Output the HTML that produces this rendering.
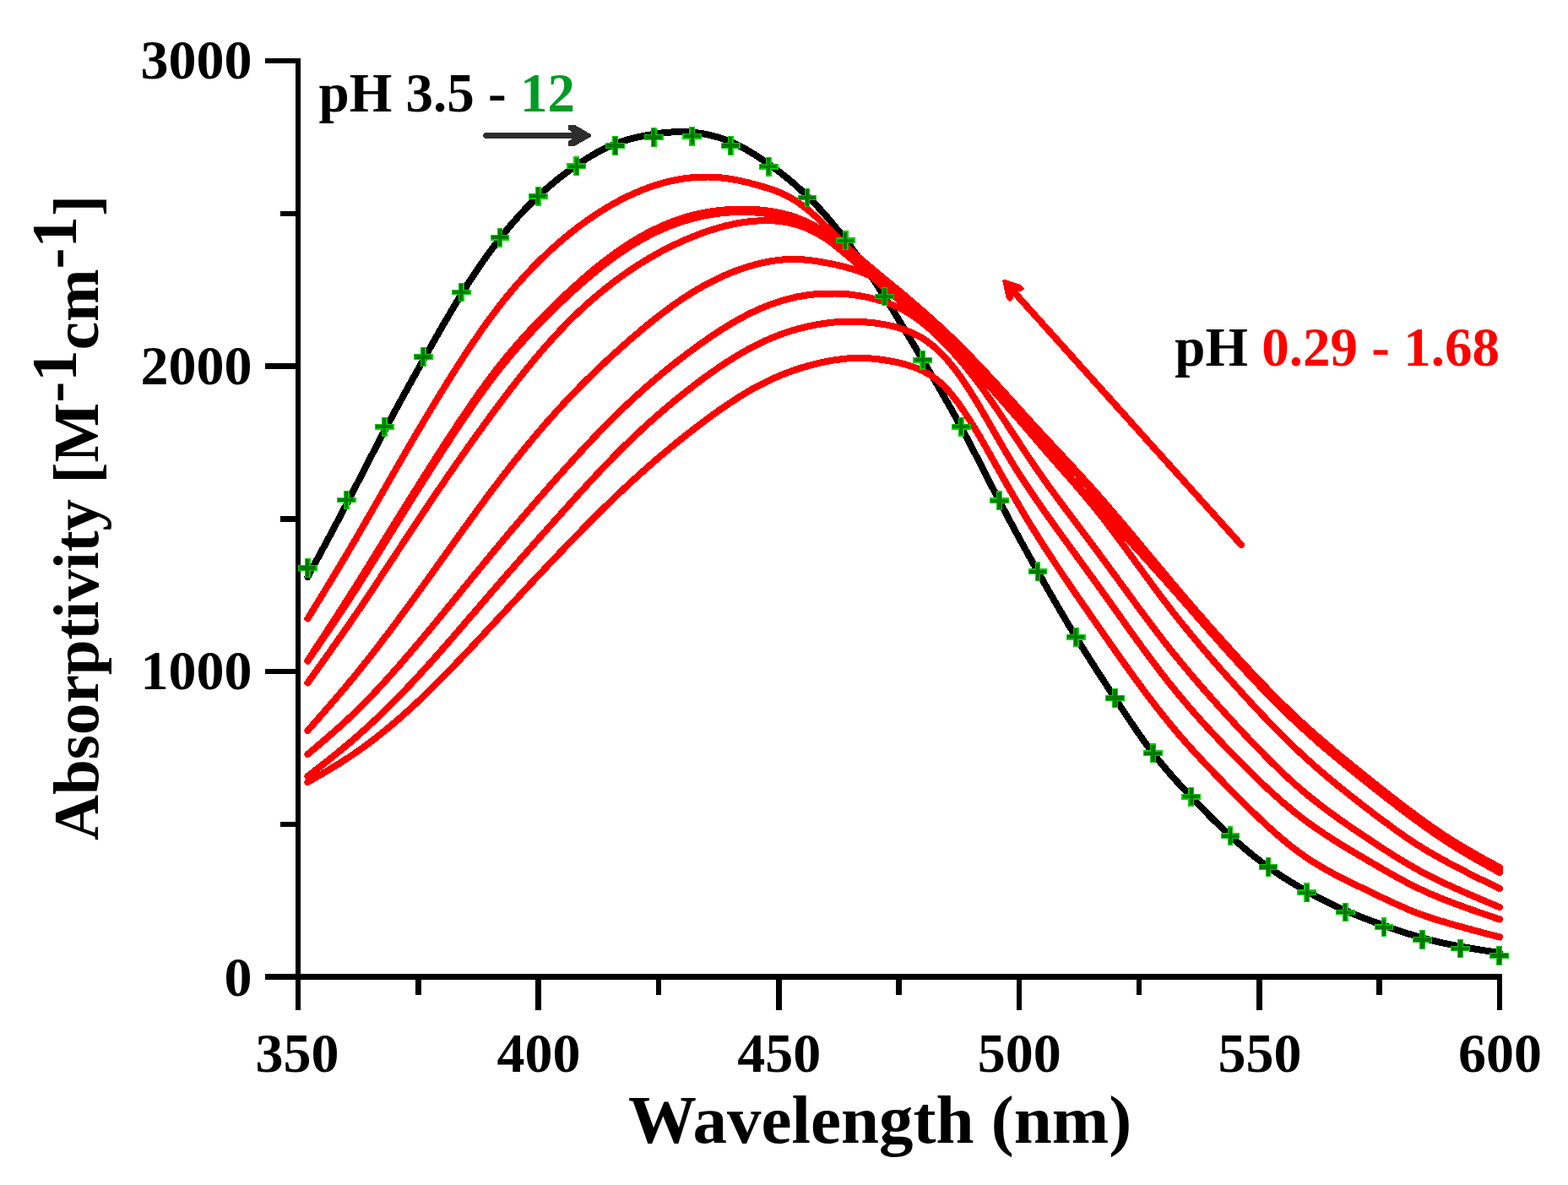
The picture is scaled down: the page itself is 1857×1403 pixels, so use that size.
<!DOCTYPE html>
<html><head><meta charset="utf-8"><title>Absorptivity vs Wavelength</title>
<style>html,body{margin:0;padding:0;background:#fff;overflow:hidden}svg{display:block}</style>
</head><body>
<svg width="1857" height="1403" viewBox="0 0 1857 1403">
<rect width="100%" height="100%" fill="#ffffff"/>
<g shape-rendering="crispEdges">
<g stroke="#000" stroke-width="6.6" stroke-linecap="butt" fill="none">
<path d="M353.0 69 L353.0 1159.8"/>
<path d="M314 1156.5 L1779 1156.5"/>
<path d="M314 795.0 L353.0 795.0"/>
<path d="M314 433.5 L353.0 433.5"/>
<path d="M314 72.0 L353.0 72.0"/>
<path d="M332 975.8 L353.0 975.8"/>
<path d="M332 614.2 L353.0 614.2"/>
<path d="M332 252.8 L353.0 252.8"/>
<path d="M353.0 1156.5 L353.0 1195.7"/>
<path d="M637.6 1156.5 L637.6 1195.7"/>
<path d="M922.2 1156.5 L922.2 1195.7"/>
<path d="M1206.8 1156.5 L1206.8 1195.7"/>
<path d="M1491.4 1156.5 L1491.4 1195.7"/>
<path d="M1776.0 1156.5 L1776.0 1195.7"/>
<path d="M495.3 1156.5 L495.3 1177.5"/>
<path d="M779.9 1156.5 L779.9 1177.5"/>
<path d="M1064.5 1156.5 L1064.5 1177.5"/>
<path d="M1349.1 1156.5 L1349.1 1177.5"/>
<path d="M1633.7 1156.5 L1633.7 1177.5"/>
</g>
<path d="M364.4 683.0 L367.4 677.5 L370.4 671.9 L373.4 666.4 L376.4 660.8 L379.4 655.2 L382.4 649.7 L385.4 644.1 L388.4 638.5 L391.4 632.9 L394.4 627.2 L397.4 621.6 L400.4 615.9 L403.4 610.2 L406.4 604.5 L409.4 598.8 L412.4 593.0 L415.4 587.2 L418.4 581.4 L421.4 575.6 L424.4 569.8 L427.4 563.9 L430.4 558.1 L433.4 552.2 L436.4 546.4 L439.4 540.6 L442.4 534.8 L445.4 529.0 L448.4 523.2 L451.4 517.5 L454.4 511.8 L457.4 506.1 L460.4 500.5 L463.4 494.9 L466.4 489.3 L469.4 483.8 L472.4 478.3 L475.4 472.8 L478.4 467.4 L481.4 461.9 L484.4 456.5 L487.4 451.1 L490.4 445.7 L493.4 440.4 L496.4 435.0 L499.4 429.6 L502.4 424.3 L505.4 419.0 L508.4 413.6 L511.4 408.3 L514.4 403.0 L517.4 397.7 L520.4 392.5 L523.4 387.2 L526.4 382.0 L529.4 376.9 L532.4 371.8 L535.4 366.7 L538.4 361.7 L541.4 356.7 L544.4 351.8 L547.4 346.9 L550.4 342.1 L553.4 337.4 L556.4 332.7 L559.4 328.1 L562.4 323.6 L565.4 319.1 L568.4 314.7 L571.4 310.4 L574.4 306.1 L577.4 301.9 L580.4 297.7 L583.4 293.7 L586.4 289.7 L589.4 285.8 L592.4 281.9 L595.4 278.1 L598.4 274.4 L601.4 270.8 L604.4 267.2 L607.4 263.7 L610.4 260.3 L613.4 256.9 L616.4 253.6 L619.4 250.4 L622.4 247.2 L625.4 244.1 L628.4 241.1 L631.4 238.1 L634.4 235.2 L637.4 232.3 L640.4 229.5 L643.4 226.8 L646.4 224.1 L649.4 221.5 L652.4 218.9 L655.4 216.4 L658.4 213.9 L661.4 211.5 L664.4 209.2 L667.4 206.9 L670.4 204.6 L673.4 202.4 L676.4 200.2 L679.4 198.1 L682.4 196.0 L685.4 194.0 L688.4 192.0 L691.4 190.1 L694.4 188.1 L697.4 186.3 L700.4 184.5 L703.4 182.7 L706.4 181.0 L709.4 179.4 L712.4 177.8 L715.4 176.3 L718.4 174.9 L721.4 173.5 L724.4 172.2 L727.4 170.9 L730.4 169.7 L733.4 168.6 L736.4 167.6 L739.4 166.6 L742.4 165.7 L745.4 164.8 L748.4 164.0 L751.4 163.2 L754.4 162.5 L757.4 161.9 L760.4 161.2 L763.4 160.7 L766.4 160.1 L769.4 159.6 L772.4 159.1 L775.4 158.7 L778.4 158.2 L781.4 157.8 L784.4 157.4 L787.4 157.1 L790.4 156.8 L793.4 156.6 L796.4 156.4 L799.4 156.2 L802.4 156.1 L805.4 156.1 L808.4 156.1 L811.4 156.1 L814.4 156.3 L817.4 156.5 L820.4 156.7 L823.4 157.0 L826.4 157.4 L829.4 157.8 L832.4 158.3 L835.4 158.9 L838.4 159.5 L841.4 160.1 L844.4 160.9 L847.4 161.7 L850.4 162.5 L853.4 163.5 L856.4 164.5 L859.4 165.6 L862.4 166.8 L865.4 168.0 L868.4 169.3 L871.4 170.7 L874.4 172.1 L877.4 173.7 L880.4 175.3 L883.4 176.9 L886.4 178.6 L889.4 180.4 L892.4 182.2 L895.4 184.1 L898.4 186.1 L901.4 188.0 L904.4 190.1 L907.4 192.1 L910.4 194.2 L913.4 196.4 L916.4 198.6 L919.4 200.8 L922.4 203.1 L925.4 205.4 L928.4 207.7 L931.4 210.1 L934.4 212.6 L937.4 215.1 L940.4 217.7 L943.4 220.3 L946.4 223.0 L949.4 225.8 L952.4 228.6 L955.4 231.4 L958.4 234.4 L961.4 237.4 L964.4 240.5 L967.4 243.6 L970.4 246.9 L973.4 250.1 L976.4 253.5 L979.4 256.9 L982.4 260.4 L985.4 264.0 L988.4 267.6 L991.4 271.3 L994.4 275.0 L997.4 278.8 L1000.4 282.7 L1003.4 286.6 L1006.4 290.6 L1009.4 294.7 L1012.4 298.8 L1015.4 303.0 L1018.4 307.3 L1021.4 311.6 L1024.4 315.9 L1027.4 320.3 L1030.4 324.8 L1033.4 329.3 L1036.4 333.9 L1039.4 338.5 L1042.4 343.2 L1045.4 347.9 L1048.4 352.6 L1051.4 357.4 L1054.4 362.2 L1057.4 367.1 L1060.4 372.0 L1063.4 376.9 L1066.4 381.9 L1069.4 386.9 L1072.4 391.9 L1075.4 396.9 L1078.4 402.0 L1081.4 407.0 L1084.4 412.1 L1087.4 417.2 L1090.4 422.3 L1093.4 427.3 L1096.4 432.4 L1099.4 437.5 L1102.4 442.6 L1105.4 447.7 L1108.4 452.8 L1111.4 457.9 L1114.4 463.1 L1117.4 468.3 L1120.4 473.5 L1123.4 478.8 L1126.4 484.1 L1129.4 489.5 L1132.4 494.9 L1135.4 500.4 L1138.4 505.9 L1141.4 511.5 L1144.4 517.2 L1147.4 522.9 L1150.4 528.6 L1153.4 534.4 L1156.4 540.2 L1159.4 546.1 L1162.4 551.9 L1165.4 557.8 L1168.4 563.7 L1171.4 569.5 L1174.4 575.4 L1177.4 581.2 L1180.4 587.0 L1183.4 592.8 L1186.4 598.5 L1189.4 604.2 L1192.4 609.9 L1195.4 615.5 L1198.4 621.1 L1201.4 626.7 L1204.4 632.2 L1207.4 637.7 L1210.4 643.2 L1213.4 648.6 L1216.4 654.0 L1219.4 659.4 L1222.4 664.8 L1225.4 670.2 L1228.4 675.5 L1231.4 680.8 L1234.4 686.1 L1237.4 691.4 L1240.4 696.7 L1243.4 701.9 L1246.4 707.1 L1249.4 712.3 L1252.4 717.5 L1255.4 722.6 L1258.4 727.7 L1261.4 732.8 L1264.4 737.9 L1267.4 742.9 L1270.4 747.8 L1273.4 752.8 L1276.4 757.7 L1279.4 762.5 L1282.4 767.4 L1285.4 772.2 L1288.4 776.9 L1291.4 781.7 L1294.4 786.4 L1297.4 791.1 L1300.4 795.7 L1303.4 800.4 L1306.4 805.0 L1309.4 809.6 L1312.4 814.2 L1315.4 818.8 L1318.4 823.4 L1321.4 828.0 L1324.4 832.5 L1327.4 837.1 L1330.4 841.6 L1333.4 846.1 L1336.4 850.6 L1339.4 855.1 L1342.4 859.5 L1345.4 863.9 L1348.4 868.2 L1351.4 872.5 L1354.4 876.7 L1357.4 880.8 L1360.4 884.9 L1363.4 888.9 L1366.4 892.8 L1369.4 896.6 L1372.4 900.4 L1375.4 904.0 L1378.4 907.6 L1381.4 911.2 L1384.4 914.7 L1387.4 918.1 L1390.4 921.5 L1393.4 924.8 L1396.4 928.1 L1399.4 931.3 L1402.4 934.6 L1405.4 937.8 L1408.4 940.9 L1411.4 944.1 L1414.4 947.3 L1417.4 950.4 L1420.4 953.5 L1423.4 956.6 L1426.4 959.7 L1429.4 962.7 L1432.4 965.8 L1435.4 968.8 L1438.4 971.8 L1441.4 974.7 L1444.4 977.7 L1447.4 980.6 L1450.4 983.4 L1453.4 986.2 L1456.4 989.0 L1459.4 991.8 L1462.4 994.5 L1465.4 997.2 L1468.4 999.8 L1471.4 1002.4 L1474.4 1004.9 L1477.4 1007.5 L1480.4 1009.9 L1483.4 1012.4 L1486.4 1014.7 L1489.4 1017.1 L1492.4 1019.4 L1495.4 1021.7 L1498.4 1023.9 L1501.4 1026.1 L1504.4 1028.2 L1507.4 1030.3 L1510.4 1032.4 L1513.4 1034.4 L1516.4 1036.4 L1519.4 1038.3 L1522.4 1040.3 L1525.4 1042.1 L1528.4 1044.0 L1531.4 1045.8 L1534.4 1047.6 L1537.4 1049.4 L1540.4 1051.1 L1543.4 1052.8 L1546.4 1054.5 L1549.4 1056.2 L1552.4 1057.9 L1555.4 1059.5 L1558.4 1061.1 L1561.4 1062.7 L1564.4 1064.2 L1567.4 1065.8 L1570.4 1067.3 L1573.4 1068.8 L1576.4 1070.2 L1579.4 1071.7 L1582.4 1073.1 L1585.4 1074.5 L1588.4 1075.9 L1591.4 1077.2 L1594.4 1078.5 L1597.4 1079.8 L1600.4 1081.1 L1603.4 1082.3 L1606.4 1083.5 L1609.4 1084.7 L1612.4 1085.9 L1615.4 1087.1 L1618.4 1088.2 L1621.4 1089.3 L1624.4 1090.4 L1627.4 1091.6 L1630.4 1092.6 L1633.4 1093.7 L1636.4 1094.8 L1639.4 1095.9 L1642.4 1096.9 L1645.4 1098.0 L1648.4 1099.0 L1651.4 1100.1 L1654.4 1101.1 L1657.4 1102.1 L1660.4 1103.1 L1663.4 1104.1 L1666.4 1105.1 L1669.4 1106.0 L1672.4 1106.9 L1675.4 1107.8 L1678.4 1108.7 L1681.4 1109.6 L1684.4 1110.4 L1687.4 1111.3 L1690.4 1112.1 L1693.4 1112.8 L1696.4 1113.6 L1699.4 1114.3 L1702.4 1115.0 L1705.4 1115.7 L1708.4 1116.4 L1711.4 1117.0 L1714.4 1117.6 L1717.4 1118.3 L1720.4 1118.9 L1723.4 1119.4 L1726.4 1120.0 L1729.4 1120.6 L1732.4 1121.1 L1735.4 1121.6 L1738.4 1122.2 L1741.4 1122.7 L1744.4 1123.2 L1747.4 1123.7 L1750.4 1124.2 L1753.4 1124.6 L1756.4 1125.1 L1759.4 1125.6 L1762.4 1126.0 L1765.4 1126.5 L1768.4 1127.0 L1771.4 1127.4 L1774.4 1127.9 L1776.0 1128.1" fill="none" stroke="#000" stroke-width="8" stroke-linejoin="round" stroke-linecap="round"/>
<g fill="none" stroke="#ff0000" stroke-width="8" stroke-linejoin="round" stroke-linecap="round">
<path d="M364.4 926.1 L367.4 924.3 L370.4 922.6 L373.4 920.9 L376.4 919.1 L379.4 917.4 L382.4 915.6 L385.4 913.8 L388.4 912.1 L391.4 910.3 L394.4 908.4 L397.4 906.6 L400.4 904.8 L403.4 902.9 L406.4 901.0 L409.4 899.0 L412.4 897.1 L415.4 895.1 L418.4 893.1 L421.4 891.0 L424.4 888.9 L427.4 886.8 L430.4 884.7 L433.4 882.5 L436.4 880.3 L439.4 878.0 L442.4 875.7 L445.4 873.4 L448.4 871.0 L451.4 868.7 L454.4 866.2 L457.4 863.8 L460.4 861.3 L463.4 858.8 L466.4 856.3 L469.4 853.7 L472.4 851.1 L475.4 848.5 L478.4 845.8 L481.4 843.1 L484.4 840.4 L487.4 837.7 L490.4 834.9 L493.4 832.1 L496.4 829.3 L499.4 826.5 L502.4 823.6 L505.4 820.7 L508.4 817.8 L511.4 814.8 L514.4 811.8 L517.4 808.8 L520.4 805.8 L523.4 802.8 L526.4 799.7 L529.4 796.7 L532.4 793.6 L535.4 790.5 L538.4 787.4 L541.4 784.2 L544.4 781.1 L547.4 777.9 L550.4 774.8 L553.4 771.6 L556.4 768.4 L559.4 765.2 L562.4 762.0 L565.4 758.8 L568.4 755.6 L571.4 752.4 L574.4 749.1 L577.4 745.9 L580.4 742.7 L583.4 739.5 L586.4 736.3 L589.4 733.0 L592.4 729.8 L595.4 726.6 L598.4 723.4 L601.4 720.1 L604.4 716.9 L607.4 713.7 L610.4 710.5 L613.4 707.3 L616.4 704.0 L619.4 700.8 L622.4 697.6 L625.4 694.4 L628.4 691.2 L631.4 688.0 L634.4 684.8 L637.4 681.6 L640.4 678.4 L643.4 675.3 L646.4 672.1 L649.4 668.9 L652.4 665.7 L655.4 662.6 L658.4 659.4 L661.4 656.3 L664.4 653.1 L667.4 650.0 L670.4 646.9 L673.4 643.8 L676.4 640.7 L679.4 637.6 L682.4 634.5 L685.4 631.4 L688.4 628.3 L691.4 625.2 L694.4 622.2 L697.4 619.2 L700.4 616.1 L703.4 613.1 L706.4 610.1 L709.4 607.1 L712.4 604.2 L715.4 601.2 L718.4 598.3 L721.4 595.4 L724.4 592.4 L727.4 589.6 L730.4 586.7 L733.4 583.8 L736.4 581.0 L739.4 578.2 L742.4 575.4 L745.4 572.6 L748.4 569.8 L751.4 567.1 L754.4 564.4 L757.4 561.7 L760.4 559.0 L763.4 556.3 L766.4 553.7 L769.4 551.1 L772.4 548.5 L775.4 545.9 L778.4 543.3 L781.4 540.7 L784.4 538.2 L787.4 535.7 L790.4 533.2 L793.4 530.7 L796.4 528.2 L799.4 525.8 L802.4 523.3 L805.4 520.9 L808.4 518.5 L811.4 516.1 L814.4 513.8 L817.4 511.4 L820.4 509.1 L823.4 506.8 L826.4 504.5 L829.4 502.2 L832.4 499.9 L835.4 497.6 L838.4 495.4 L841.4 493.2 L844.4 491.0 L847.4 488.9 L850.4 486.7 L853.4 484.6 L856.4 482.5 L859.4 480.5 L862.4 478.4 L865.4 476.4 L868.4 474.5 L871.4 472.5 L874.4 470.6 L877.4 468.8 L880.4 466.9 L883.4 465.1 L886.4 463.4 L889.4 461.6 L892.4 459.9 L895.4 458.3 L898.4 456.7 L901.4 455.1 L904.4 453.6 L907.4 452.1 L910.4 450.7 L913.4 449.3 L916.4 447.9 L919.4 446.6 L922.4 445.3 L925.4 444.0 L928.4 442.8 L931.4 441.7 L934.4 440.5 L937.4 439.4 L940.4 438.4 L943.4 437.4 L946.4 436.4 L949.4 435.4 L952.4 434.5 L955.4 433.7 L958.4 432.8 L961.4 432.0 L964.4 431.2 L967.4 430.5 L970.4 429.8 L973.4 429.1 L976.4 428.5 L979.4 427.9 L982.4 427.3 L985.4 426.8 L988.4 426.3 L991.4 425.9 L994.4 425.5 L997.4 425.1 L1000.4 424.8 L1003.4 424.5 L1006.4 424.3 L1009.4 424.1 L1012.4 424.0 L1015.4 423.9 L1018.4 423.9 L1021.4 424.0 L1024.4 424.1 L1027.4 424.2 L1030.4 424.4 L1033.4 424.6 L1036.4 424.9 L1039.4 425.3 L1042.4 425.6 L1045.4 426.0 L1048.4 426.5 L1051.4 426.9 L1054.4 427.5 L1057.4 428.0 L1060.4 428.6 L1063.4 429.3 L1066.4 430.0 L1069.4 430.8 L1072.4 431.6 L1075.4 432.4 L1078.4 433.4 L1081.4 434.4 L1084.4 435.5 L1087.4 436.7 L1090.4 438.0 L1093.4 439.4 L1096.4 441.0 L1099.4 442.7 L1102.4 444.5 L1105.4 446.6 L1108.4 448.8 L1111.4 451.2 L1114.4 453.8 L1117.4 456.7 L1120.4 459.7 L1123.4 463.0 L1126.4 466.4 L1129.4 470.1 L1132.4 474.0 L1135.4 478.0 L1138.4 482.2 L1141.4 486.6 L1144.4 491.1 L1147.4 495.7 L1150.4 500.5 L1153.4 505.3 L1156.4 510.3 L1159.4 515.4 L1162.4 520.5 L1165.4 525.7 L1168.4 531.0 L1171.4 536.3 L1174.4 541.6 L1177.4 546.9 L1180.4 552.3 L1183.4 557.6 L1186.4 562.9 L1189.4 568.3 L1192.4 573.5 L1195.4 578.8 L1198.4 584.0 L1201.4 589.2 L1204.4 594.4 L1207.4 599.5 L1210.4 604.6 L1213.4 609.6 L1216.4 614.6 L1219.4 619.5 L1222.4 624.4 L1225.4 629.2 L1228.4 634.0 L1231.4 638.8 L1234.4 643.5 L1237.4 648.2 L1240.4 652.8 L1243.4 657.4 L1246.4 662.0 L1249.4 666.6 L1252.4 671.1 L1255.4 675.6 L1258.4 680.1 L1261.4 684.6 L1264.4 689.0 L1267.4 693.4 L1270.4 697.8 L1273.4 702.2 L1276.4 706.6 L1279.4 710.9 L1282.4 715.3 L1285.4 719.6 L1288.4 723.9 L1291.4 728.2 L1294.4 732.6 L1297.4 736.9 L1300.4 741.2 L1303.4 745.5 L1306.4 749.8 L1309.4 754.1 L1312.4 758.4 L1315.4 762.7 L1318.4 767.0 L1321.4 771.3 L1324.4 775.5 L1327.4 779.8 L1330.4 784.0 L1333.4 788.2 L1336.4 792.4 L1339.4 796.6 L1342.4 800.7 L1345.4 804.9 L1348.4 809.0 L1351.4 813.0 L1354.4 817.1 L1357.4 821.1 L1360.4 825.1 L1363.4 829.0 L1366.4 833.0 L1369.4 836.8 L1372.4 840.7 L1375.4 844.5 L1378.4 848.2 L1381.4 851.9 L1384.4 855.6 L1387.4 859.2 L1390.4 862.8 L1393.4 866.4 L1396.4 869.9 L1399.4 873.4 L1402.4 876.8 L1405.4 880.2 L1408.4 883.6 L1411.4 886.9 L1414.4 890.2 L1417.4 893.5 L1420.4 896.7 L1423.4 900.0 L1426.4 903.2 L1429.4 906.3 L1432.4 909.5 L1435.4 912.6 L1438.4 915.8 L1441.4 918.9 L1444.4 922.0 L1447.4 925.0 L1450.4 928.1 L1453.4 931.1 L1456.4 934.2 L1459.4 937.2 L1462.4 940.3 L1465.4 943.3 L1468.4 946.3 L1471.4 949.3 L1474.4 952.3 L1477.4 955.2 L1480.4 958.2 L1483.4 961.1 L1486.4 964.0 L1489.4 966.9 L1492.4 969.8 L1495.4 972.6 L1498.4 975.4 L1501.4 978.2 L1504.4 980.9 L1507.4 983.6 L1510.4 986.3 L1513.4 988.9 L1516.4 991.5 L1519.4 994.1 L1522.4 996.6 L1525.4 999.0 L1528.4 1001.4 L1531.4 1003.8 L1534.4 1006.1 L1537.4 1008.3 L1540.4 1010.5 L1543.4 1012.6 L1546.4 1014.7 L1549.4 1016.7 L1552.4 1018.7 L1555.4 1020.6 L1558.4 1022.5 L1561.4 1024.3 L1564.4 1026.1 L1567.4 1027.9 L1570.4 1029.6 L1573.4 1031.2 L1576.4 1032.9 L1579.4 1034.5 L1582.4 1036.1 L1585.4 1037.7 L1588.4 1039.2 L1591.4 1040.7 L1594.4 1042.2 L1597.4 1043.7 L1600.4 1045.2 L1603.4 1046.6 L1606.4 1048.1 L1609.4 1049.5 L1612.4 1050.9 L1615.4 1052.4 L1618.4 1053.8 L1621.4 1055.3 L1624.4 1056.7 L1627.4 1058.1 L1630.4 1059.6 L1633.4 1061.0 L1636.4 1062.5 L1639.4 1063.9 L1642.4 1065.3 L1645.4 1066.7 L1648.4 1068.1 L1651.4 1069.5 L1654.4 1070.9 L1657.4 1072.2 L1660.4 1073.5 L1663.4 1074.8 L1666.4 1076.1 L1669.4 1077.4 L1672.4 1078.6 L1675.4 1079.8 L1678.4 1081.0 L1681.4 1082.1 L1684.4 1083.2 L1687.4 1084.3 L1690.4 1085.3 L1693.4 1086.3 L1696.4 1087.3 L1699.4 1088.3 L1702.4 1089.2 L1705.4 1090.1 L1708.4 1091.0 L1711.4 1091.9 L1714.4 1092.8 L1717.4 1093.7 L1720.4 1094.5 L1723.4 1095.4 L1726.4 1096.2 L1729.4 1097.0 L1732.4 1097.9 L1735.4 1098.7 L1738.4 1099.5 L1741.4 1100.3 L1744.4 1101.2 L1747.4 1102.0 L1750.4 1102.8 L1753.4 1103.6 L1756.4 1104.4 L1759.4 1105.1 L1762.4 1105.9 L1765.4 1106.7 L1768.4 1107.5 L1771.4 1108.3 L1774.4 1109.1 L1776.0 1109.5"/>
<path d="M364.4 919.1 L367.4 916.7 L370.4 914.4 L373.4 912.1 L376.4 909.8 L379.4 907.4 L382.4 905.1 L385.4 902.7 L388.4 900.4 L391.4 898.0 L394.4 895.6 L397.4 893.2 L400.4 890.8 L403.4 888.3 L406.4 885.8 L409.4 883.3 L412.4 880.8 L415.4 878.3 L418.4 875.7 L421.4 873.1 L424.4 870.5 L427.4 867.8 L430.4 865.1 L433.4 862.4 L436.4 859.7 L439.4 856.9 L442.4 854.1 L445.4 851.3 L448.4 848.4 L451.4 845.5 L454.4 842.6 L457.4 839.7 L460.4 836.7 L463.4 833.7 L466.4 830.7 L469.4 827.7 L472.4 824.6 L475.4 821.5 L478.4 818.4 L481.4 815.3 L484.4 812.1 L487.4 809.0 L490.4 805.8 L493.4 802.5 L496.4 799.3 L499.4 796.0 L502.4 792.7 L505.4 789.4 L508.4 786.1 L511.4 782.8 L514.4 779.4 L517.4 776.0 L520.4 772.6 L523.4 769.2 L526.4 765.8 L529.4 762.4 L532.4 758.9 L535.4 755.5 L538.4 752.0 L541.4 748.6 L544.4 745.1 L547.4 741.6 L550.4 738.1 L553.4 734.6 L556.4 731.1 L559.4 727.7 L562.4 724.2 L565.4 720.7 L568.4 717.2 L571.4 713.7 L574.4 710.2 L577.4 706.7 L580.4 703.3 L583.4 699.8 L586.4 696.3 L589.4 692.9 L592.4 689.4 L595.4 686.0 L598.4 682.6 L601.4 679.1 L604.4 675.7 L607.4 672.3 L610.4 668.9 L613.4 665.5 L616.4 662.1 L619.4 658.7 L622.4 655.3 L625.4 651.9 L628.4 648.5 L631.4 645.1 L634.4 641.8 L637.4 638.4 L640.4 635.0 L643.4 631.7 L646.4 628.3 L649.4 624.9 L652.4 621.6 L655.4 618.2 L658.4 614.9 L661.4 611.5 L664.4 608.2 L667.4 604.8 L670.4 601.5 L673.4 598.2 L676.4 594.9 L679.4 591.5 L682.4 588.2 L685.4 584.9 L688.4 581.6 L691.4 578.4 L694.4 575.1 L697.4 571.8 L700.4 568.6 L703.4 565.4 L706.4 562.2 L709.4 559.0 L712.4 555.8 L715.4 552.7 L718.4 549.5 L721.4 546.4 L724.4 543.3 L727.4 540.2 L730.4 537.2 L733.4 534.2 L736.4 531.2 L739.4 528.2 L742.4 525.3 L745.4 522.4 L748.4 519.5 L751.4 516.6 L754.4 513.8 L757.4 511.0 L760.4 508.2 L763.4 505.4 L766.4 502.7 L769.4 500.0 L772.4 497.3 L775.4 494.6 L778.4 492.0 L781.4 489.4 L784.4 486.8 L787.4 484.3 L790.4 481.7 L793.4 479.2 L796.4 476.7 L799.4 474.2 L802.4 471.8 L805.4 469.4 L808.4 467.0 L811.4 464.6 L814.4 462.2 L817.4 459.9 L820.4 457.6 L823.4 455.3 L826.4 453.0 L829.4 450.8 L832.4 448.5 L835.4 446.3 L838.4 444.2 L841.4 442.0 L844.4 439.9 L847.4 437.8 L850.4 435.7 L853.4 433.7 L856.4 431.7 L859.4 429.7 L862.4 427.7 L865.4 425.8 L868.4 423.9 L871.4 422.1 L874.4 420.3 L877.4 418.5 L880.4 416.8 L883.4 415.1 L886.4 413.4 L889.4 411.8 L892.4 410.2 L895.4 408.7 L898.4 407.2 L901.4 405.7 L904.4 404.3 L907.4 403.0 L910.4 401.6 L913.4 400.4 L916.4 399.1 L919.4 397.9 L922.4 396.8 L925.4 395.7 L928.4 394.6 L931.4 393.6 L934.4 392.6 L937.4 391.6 L940.4 390.7 L943.4 389.9 L946.4 389.0 L949.4 388.3 L952.4 387.5 L955.4 386.8 L958.4 386.1 L961.4 385.5 L964.4 384.9 L967.4 384.4 L970.4 383.9 L973.4 383.4 L976.4 382.9 L979.4 382.5 L982.4 382.2 L985.4 381.8 L988.4 381.5 L991.4 381.3 L994.4 381.1 L997.4 380.9 L1000.4 380.8 L1003.4 380.7 L1006.4 380.7 L1009.4 380.7 L1012.4 380.7 L1015.4 380.8 L1018.4 380.9 L1021.4 381.1 L1024.4 381.3 L1027.4 381.6 L1030.4 381.8 L1033.4 382.2 L1036.4 382.5 L1039.4 382.9 L1042.4 383.4 L1045.4 383.9 L1048.4 384.4 L1051.4 385.0 L1054.4 385.6 L1057.4 386.3 L1060.4 387.0 L1063.4 387.9 L1066.4 388.8 L1069.4 389.8 L1072.4 390.8 L1075.4 392.0 L1078.4 393.2 L1081.4 394.6 L1084.4 396.0 L1087.4 397.6 L1090.4 399.3 L1093.4 401.1 L1096.4 403.1 L1099.4 405.2 L1102.4 407.5 L1105.4 409.9 L1108.4 412.5 L1111.4 415.2 L1114.4 418.2 L1117.4 421.3 L1120.4 424.5 L1123.4 428.0 L1126.4 431.5 L1129.4 435.3 L1132.4 439.2 L1135.4 443.2 L1138.4 447.4 L1141.4 451.8 L1144.4 456.3 L1147.4 460.9 L1150.4 465.6 L1153.4 470.4 L1156.4 475.4 L1159.4 480.4 L1162.4 485.4 L1165.4 490.6 L1168.4 495.7 L1171.4 500.9 L1174.4 506.2 L1177.4 511.4 L1180.4 516.6 L1183.4 521.8 L1186.4 527.0 L1189.4 532.2 L1192.4 537.3 L1195.4 542.3 L1198.4 547.3 L1201.4 552.1 L1204.4 556.9 L1207.4 561.7 L1210.4 566.3 L1213.4 570.9 L1216.4 575.5 L1219.4 580.0 L1222.4 584.4 L1225.4 588.8 L1228.4 593.2 L1231.4 597.5 L1234.4 601.8 L1237.4 606.1 L1240.4 610.3 L1243.4 614.5 L1246.4 618.7 L1249.4 622.9 L1252.4 627.1 L1255.4 631.3 L1258.4 635.4 L1261.4 639.6 L1264.4 643.7 L1267.4 647.8 L1270.4 651.9 L1273.4 656.0 L1276.4 660.2 L1279.4 664.3 L1282.4 668.4 L1285.4 672.5 L1288.4 676.7 L1291.4 680.8 L1294.4 684.9 L1297.4 689.1 L1300.4 693.3 L1303.4 697.5 L1306.4 701.7 L1309.4 705.9 L1312.4 710.1 L1315.4 714.3 L1318.4 718.5 L1321.4 722.8 L1324.4 727.0 L1327.4 731.2 L1330.4 735.5 L1333.4 739.7 L1336.4 743.9 L1339.4 748.1 L1342.4 752.3 L1345.4 756.4 L1348.4 760.6 L1351.4 764.7 L1354.4 768.8 L1357.4 772.9 L1360.4 777.0 L1363.4 781.0 L1366.4 785.0 L1369.4 789.0 L1372.4 792.9 L1375.4 796.8 L1378.4 800.7 L1381.4 804.5 L1384.4 808.3 L1387.4 812.0 L1390.4 815.7 L1393.4 819.4 L1396.4 823.0 L1399.4 826.6 L1402.4 830.2 L1405.4 833.7 L1408.4 837.2 L1411.4 840.6 L1414.4 844.1 L1417.4 847.4 L1420.4 850.8 L1423.4 854.2 L1426.4 857.5 L1429.4 860.8 L1432.4 864.0 L1435.4 867.3 L1438.4 870.5 L1441.4 873.7 L1444.4 876.9 L1447.4 880.0 L1450.4 883.2 L1453.4 886.3 L1456.4 889.4 L1459.4 892.5 L1462.4 895.6 L1465.4 898.6 L1468.4 901.7 L1471.4 904.7 L1474.4 907.7 L1477.4 910.7 L1480.4 913.7 L1483.4 916.6 L1486.4 919.5 L1489.4 922.5 L1492.4 925.3 L1495.4 928.2 L1498.4 931.0 L1501.4 933.8 L1504.4 936.6 L1507.4 939.3 L1510.4 942.0 L1513.4 944.7 L1516.4 947.4 L1519.4 950.0 L1522.4 952.6 L1525.4 955.1 L1528.4 957.6 L1531.4 960.1 L1534.4 962.5 L1537.4 964.9 L1540.4 967.2 L1543.4 969.5 L1546.4 971.8 L1549.4 974.0 L1552.4 976.2 L1555.4 978.3 L1558.4 980.4 L1561.4 982.5 L1564.4 984.5 L1567.4 986.6 L1570.4 988.6 L1573.4 990.5 L1576.4 992.4 L1579.4 994.4 L1582.4 996.3 L1585.4 998.1 L1588.4 1000.0 L1591.4 1001.8 L1594.4 1003.6 L1597.4 1005.4 L1600.4 1007.2 L1603.4 1009.0 L1606.4 1010.8 L1609.4 1012.6 L1612.4 1014.3 L1615.4 1016.1 L1618.4 1017.9 L1621.4 1019.6 L1624.4 1021.4 L1627.4 1023.1 L1630.4 1024.9 L1633.4 1026.6 L1636.4 1028.4 L1639.4 1030.1 L1642.4 1031.8 L1645.4 1033.5 L1648.4 1035.2 L1651.4 1036.9 L1654.4 1038.6 L1657.4 1040.2 L1660.4 1041.8 L1663.4 1043.4 L1666.4 1045.0 L1669.4 1046.6 L1672.4 1048.1 L1675.4 1049.6 L1678.4 1051.1 L1681.4 1052.5 L1684.4 1053.9 L1687.4 1055.3 L1690.4 1056.6 L1693.4 1058.0 L1696.4 1059.3 L1699.4 1060.5 L1702.4 1061.8 L1705.4 1063.0 L1708.4 1064.2 L1711.4 1065.4 L1714.4 1066.6 L1717.4 1067.7 L1720.4 1068.9 L1723.4 1070.0 L1726.4 1071.1 L1729.4 1072.3 L1732.4 1073.3 L1735.4 1074.4 L1738.4 1075.5 L1741.4 1076.6 L1744.4 1077.6 L1747.4 1078.7 L1750.4 1079.7 L1753.4 1080.8 L1756.4 1081.8 L1759.4 1082.9 L1762.4 1083.9 L1765.4 1084.9 L1768.4 1085.9 L1771.4 1087.0 L1774.4 1088.0 L1776.0 1088.5"/>
<path d="M364.4 893.1 L367.4 890.5 L370.4 888.0 L373.4 885.5 L376.4 882.9 L379.4 880.4 L382.4 877.8 L385.4 875.2 L388.4 872.6 L391.4 870.0 L394.4 867.4 L397.4 864.8 L400.4 862.1 L403.4 859.4 L406.4 856.7 L409.4 853.9 L412.4 851.1 L415.4 848.3 L418.4 845.5 L421.4 842.6 L424.4 839.6 L427.4 836.7 L430.4 833.7 L433.4 830.6 L436.4 827.6 L439.4 824.4 L442.4 821.3 L445.4 818.1 L448.4 814.9 L451.4 811.7 L454.4 808.4 L457.4 805.1 L460.4 801.8 L463.4 798.5 L466.4 795.1 L469.4 791.7 L472.4 788.3 L475.4 784.9 L478.4 781.4 L481.4 778.0 L484.4 774.5 L487.4 771.0 L490.4 767.4 L493.4 763.9 L496.4 760.3 L499.4 756.7 L502.4 753.2 L505.4 749.6 L508.4 746.0 L511.4 742.3 L514.4 738.7 L517.4 735.1 L520.4 731.4 L523.4 727.8 L526.4 724.1 L529.4 720.5 L532.4 716.8 L535.4 713.1 L538.4 709.4 L541.4 705.8 L544.4 702.1 L547.4 698.4 L550.4 694.7 L553.4 691.1 L556.4 687.4 L559.4 683.7 L562.4 680.0 L565.4 676.4 L568.4 672.7 L571.4 669.1 L574.4 665.4 L577.4 661.8 L580.4 658.2 L583.4 654.5 L586.4 650.9 L589.4 647.3 L592.4 643.7 L595.4 640.2 L598.4 636.6 L601.4 633.0 L604.4 629.5 L607.4 625.9 L610.4 622.4 L613.4 618.9 L616.4 615.4 L619.4 611.8 L622.4 608.4 L625.4 604.9 L628.4 601.4 L631.4 597.9 L634.4 594.5 L637.4 591.0 L640.4 587.6 L643.4 584.2 L646.4 580.7 L649.4 577.3 L652.4 573.9 L655.4 570.6 L658.4 567.2 L661.4 563.8 L664.4 560.5 L667.4 557.1 L670.4 553.8 L673.4 550.5 L676.4 547.2 L679.4 543.9 L682.4 540.6 L685.4 537.3 L688.4 534.1 L691.4 530.9 L694.4 527.6 L697.4 524.4 L700.4 521.3 L703.4 518.1 L706.4 515.0 L709.4 511.9 L712.4 508.8 L715.4 505.7 L718.4 502.6 L721.4 499.6 L724.4 496.6 L727.4 493.6 L730.4 490.7 L733.4 487.7 L736.4 484.8 L739.4 481.9 L742.4 479.1 L745.4 476.3 L748.4 473.5 L751.4 470.7 L754.4 468.0 L757.4 465.3 L760.4 462.6 L763.4 459.9 L766.4 457.3 L769.4 454.7 L772.4 452.1 L775.4 449.5 L778.4 447.0 L781.4 444.5 L784.4 442.0 L787.4 439.5 L790.4 437.1 L793.4 434.6 L796.4 432.2 L799.4 429.9 L802.4 427.5 L805.4 425.2 L808.4 422.9 L811.4 420.6 L814.4 418.3 L817.4 416.1 L820.4 413.9 L823.4 411.7 L826.4 409.5 L829.4 407.3 L832.4 405.2 L835.4 403.1 L838.4 401.0 L841.4 398.9 L844.4 396.9 L847.4 394.9 L850.4 392.9 L853.4 391.0 L856.4 389.1 L859.4 387.2 L862.4 385.4 L865.4 383.6 L868.4 381.8 L871.4 380.1 L874.4 378.4 L877.4 376.7 L880.4 375.1 L883.4 373.5 L886.4 372.0 L889.4 370.5 L892.4 369.1 L895.4 367.7 L898.4 366.3 L901.4 365.0 L904.4 363.7 L907.4 362.5 L910.4 361.3 L913.4 360.2 L916.4 359.2 L919.4 358.1 L922.4 357.2 L925.4 356.2 L928.4 355.3 L931.4 354.5 L934.4 353.7 L937.4 353.0 L940.4 352.3 L943.4 351.6 L946.4 351.0 L949.4 350.5 L952.4 350.0 L955.4 349.5 L958.4 349.1 L961.4 348.7 L964.4 348.4 L967.4 348.2 L970.4 347.9 L973.4 347.7 L976.4 347.6 L979.4 347.5 L982.4 347.5 L985.4 347.5 L988.4 347.5 L991.4 347.6 L994.4 347.7 L997.4 347.9 L1000.4 348.1 L1003.4 348.3 L1006.4 348.6 L1009.4 349.0 L1012.4 349.4 L1015.4 349.8 L1018.4 350.3 L1021.4 350.8 L1024.4 351.4 L1027.4 352.0 L1030.4 352.7 L1033.4 353.5 L1036.4 354.2 L1039.4 355.1 L1042.4 356.0 L1045.4 356.9 L1048.4 357.9 L1051.4 358.9 L1054.4 360.1 L1057.4 361.3 L1060.4 362.5 L1063.4 363.9 L1066.4 365.3 L1069.4 366.9 L1072.4 368.5 L1075.4 370.3 L1078.4 372.1 L1081.4 374.1 L1084.4 376.1 L1087.4 378.3 L1090.4 380.5 L1093.4 382.9 L1096.4 385.4 L1099.4 387.9 L1102.4 390.5 L1105.4 393.2 L1108.4 396.0 L1111.4 398.9 L1114.4 401.9 L1117.4 404.9 L1120.4 408.0 L1123.4 411.2 L1126.4 414.4 L1129.4 417.7 L1132.4 421.1 L1135.4 424.5 L1138.4 428.0 L1141.4 431.6 L1144.4 435.3 L1147.4 439.0 L1150.4 442.8 L1153.4 446.6 L1156.4 450.5 L1159.4 454.5 L1162.4 458.6 L1165.4 462.7 L1168.4 466.8 L1171.4 471.1 L1174.4 475.4 L1177.4 479.7 L1180.4 484.1 L1183.4 488.6 L1186.4 493.1 L1189.4 497.6 L1192.4 502.1 L1195.4 506.7 L1198.4 511.3 L1201.4 515.8 L1204.4 520.4 L1207.4 525.0 L1210.4 529.6 L1213.4 534.1 L1216.4 538.6 L1219.4 543.1 L1222.4 547.5 L1225.4 551.9 L1228.4 556.3 L1231.4 560.6 L1234.4 564.9 L1237.4 569.1 L1240.4 573.3 L1243.4 577.5 L1246.4 581.6 L1249.4 585.7 L1252.4 589.8 L1255.4 593.9 L1258.4 598.0 L1261.4 602.0 L1264.4 606.0 L1267.4 610.0 L1270.4 614.0 L1273.4 618.0 L1276.4 622.0 L1279.4 626.0 L1282.4 630.0 L1285.4 634.0 L1288.4 638.0 L1291.4 642.0 L1294.4 646.0 L1297.4 650.0 L1300.4 654.0 L1303.4 658.1 L1306.4 662.1 L1309.4 666.2 L1312.4 670.3 L1315.4 674.4 L1318.4 678.5 L1321.4 682.6 L1324.4 686.7 L1327.4 690.8 L1330.4 694.9 L1333.4 699.0 L1336.4 703.1 L1339.4 707.2 L1342.4 711.3 L1345.4 715.4 L1348.4 719.5 L1351.4 723.5 L1354.4 727.6 L1357.4 731.6 L1360.4 735.6 L1363.4 739.6 L1366.4 743.6 L1369.4 747.5 L1372.4 751.4 L1375.4 755.3 L1378.4 759.2 L1381.4 763.0 L1384.4 766.8 L1387.4 770.6 L1390.4 774.3 L1393.4 778.0 L1396.4 781.7 L1399.4 785.3 L1402.4 788.9 L1405.4 792.5 L1408.4 796.1 L1411.4 799.6 L1414.4 803.2 L1417.4 806.7 L1420.4 810.1 L1423.4 813.6 L1426.4 817.0 L1429.4 820.5 L1432.4 823.8 L1435.4 827.2 L1438.4 830.6 L1441.4 833.9 L1444.4 837.3 L1447.4 840.6 L1450.4 843.9 L1453.4 847.2 L1456.4 850.4 L1459.4 853.7 L1462.4 857.0 L1465.4 860.2 L1468.4 863.4 L1471.4 866.6 L1474.4 869.8 L1477.4 873.0 L1480.4 876.2 L1483.4 879.3 L1486.4 882.5 L1489.4 885.6 L1492.4 888.7 L1495.4 891.7 L1498.4 894.8 L1501.4 897.8 L1504.4 900.8 L1507.4 903.8 L1510.4 906.7 L1513.4 909.6 L1516.4 912.5 L1519.4 915.3 L1522.4 918.1 L1525.4 920.9 L1528.4 923.7 L1531.4 926.4 L1534.4 929.1 L1537.4 931.7 L1540.4 934.3 L1543.4 936.9 L1546.4 939.4 L1549.4 941.9 L1552.4 944.3 L1555.4 946.7 L1558.4 949.1 L1561.4 951.4 L1564.4 953.8 L1567.4 956.1 L1570.4 958.3 L1573.4 960.5 L1576.4 962.8 L1579.4 964.9 L1582.4 967.1 L1585.4 969.3 L1588.4 971.4 L1591.4 973.5 L1594.4 975.6 L1597.4 977.6 L1600.4 979.7 L1603.4 981.7 L1606.4 983.8 L1609.4 985.8 L1612.4 987.8 L1615.4 989.8 L1618.4 991.8 L1621.4 993.8 L1624.4 995.8 L1627.4 997.8 L1630.4 999.8 L1633.4 1001.7 L1636.4 1003.7 L1639.4 1005.6 L1642.4 1007.6 L1645.4 1009.5 L1648.4 1011.4 L1651.4 1013.3 L1654.4 1015.2 L1657.4 1017.0 L1660.4 1018.8 L1663.4 1020.7 L1666.4 1022.4 L1669.4 1024.2 L1672.4 1025.9 L1675.4 1027.6 L1678.4 1029.3 L1681.4 1031.0 L1684.4 1032.6 L1687.4 1034.2 L1690.4 1035.8 L1693.4 1037.3 L1696.4 1038.8 L1699.4 1040.3 L1702.4 1041.8 L1705.4 1043.2 L1708.4 1044.6 L1711.4 1046.1 L1714.4 1047.5 L1717.4 1048.8 L1720.4 1050.2 L1723.4 1051.6 L1726.4 1052.9 L1729.4 1054.2 L1732.4 1055.6 L1735.4 1056.9 L1738.4 1058.2 L1741.4 1059.5 L1744.4 1060.8 L1747.4 1062.0 L1750.4 1063.3 L1753.4 1064.6 L1756.4 1065.8 L1759.4 1067.1 L1762.4 1068.4 L1765.4 1069.6 L1768.4 1070.9 L1771.4 1072.1 L1774.4 1073.4 L1776.0 1074.0"/>
<path d="M364.4 865.1 L367.4 861.6 L370.4 858.2 L373.4 854.8 L376.4 851.4 L379.4 848.0 L382.4 844.5 L385.4 841.1 L388.4 837.7 L391.4 834.2 L394.4 830.7 L397.4 827.2 L400.4 823.7 L403.4 820.2 L406.4 816.7 L409.4 813.1 L412.4 809.5 L415.4 805.9 L418.4 802.3 L421.4 798.6 L424.4 794.9 L427.4 791.2 L430.4 787.4 L433.4 783.7 L436.4 779.9 L439.4 776.1 L442.4 772.2 L445.4 768.4 L448.4 764.5 L451.4 760.6 L454.4 756.6 L457.4 752.7 L460.4 748.7 L463.4 744.7 L466.4 740.7 L469.4 736.7 L472.4 732.7 L475.4 728.6 L478.4 724.6 L481.4 720.5 L484.4 716.4 L487.4 712.3 L490.4 708.2 L493.4 704.0 L496.4 699.9 L499.4 695.7 L502.4 691.6 L505.4 687.4 L508.4 683.2 L511.4 679.0 L514.4 674.8 L517.4 670.6 L520.4 666.4 L523.4 662.2 L526.4 658.0 L529.4 653.8 L532.4 649.6 L535.4 645.4 L538.4 641.2 L541.4 637.1 L544.4 632.9 L547.4 628.7 L550.4 624.5 L553.4 620.4 L556.4 616.2 L559.4 612.1 L562.4 608.0 L565.4 603.9 L568.4 599.8 L571.4 595.7 L574.4 591.7 L577.4 587.6 L580.4 583.6 L583.4 579.6 L586.4 575.7 L589.4 571.7 L592.4 567.8 L595.4 563.9 L598.4 560.0 L601.4 556.2 L604.4 552.3 L607.4 548.5 L610.4 544.7 L613.4 541.0 L616.4 537.3 L619.4 533.5 L622.4 529.9 L625.4 526.2 L628.4 522.6 L631.4 519.0 L634.4 515.4 L637.4 511.9 L640.4 508.4 L643.4 504.9 L646.4 501.4 L649.4 498.0 L652.4 494.6 L655.4 491.3 L658.4 487.9 L661.4 484.6 L664.4 481.4 L667.4 478.1 L670.4 474.9 L673.4 471.7 L676.4 468.6 L679.4 465.4 L682.4 462.3 L685.4 459.3 L688.4 456.2 L691.4 453.2 L694.4 450.2 L697.4 447.3 L700.4 444.3 L703.4 441.4 L706.4 438.5 L709.4 435.7 L712.4 432.8 L715.4 430.0 L718.4 427.2 L721.4 424.4 L724.4 421.7 L727.4 418.9 L730.4 416.2 L733.4 413.5 L736.4 410.8 L739.4 408.2 L742.4 405.5 L745.4 402.9 L748.4 400.3 L751.4 397.7 L754.4 395.2 L757.4 392.6 L760.4 390.1 L763.4 387.6 L766.4 385.1 L769.4 382.7 L772.4 380.3 L775.4 377.9 L778.4 375.5 L781.4 373.2 L784.4 370.9 L787.4 368.6 L790.4 366.4 L793.4 364.2 L796.4 362.0 L799.4 359.9 L802.4 357.8 L805.4 355.7 L808.4 353.7 L811.4 351.7 L814.4 349.8 L817.4 347.9 L820.4 346.0 L823.4 344.2 L826.4 342.4 L829.4 340.7 L832.4 339.0 L835.4 337.3 L838.4 335.7 L841.4 334.1 L844.4 332.6 L847.4 331.1 L850.4 329.6 L853.4 328.2 L856.4 326.9 L859.4 325.6 L862.4 324.3 L865.4 323.0 L868.4 321.8 L871.4 320.7 L874.4 319.6 L877.4 318.5 L880.4 317.5 L883.4 316.5 L886.4 315.6 L889.4 314.7 L892.4 313.9 L895.4 313.1 L898.4 312.3 L901.4 311.6 L904.4 310.9 L907.4 310.3 L910.4 309.7 L913.4 309.2 L916.4 308.7 L919.4 308.3 L922.4 307.9 L925.4 307.6 L928.4 307.3 L931.4 307.1 L934.4 307.0 L937.4 306.9 L940.4 306.9 L943.4 307.0 L946.4 307.1 L949.4 307.2 L952.4 307.5 L955.4 307.7 L958.4 308.1 L961.4 308.4 L964.4 308.8 L967.4 309.3 L970.4 309.7 L973.4 310.3 L976.4 310.8 L979.4 311.4 L982.4 311.9 L985.4 312.5 L988.4 313.2 L991.4 313.8 L994.4 314.5 L997.4 315.3 L1000.4 316.0 L1003.4 316.8 L1006.4 317.7 L1009.4 318.6 L1012.4 319.5 L1015.4 320.5 L1018.4 321.5 L1021.4 322.6 L1024.4 323.8 L1027.4 325.0 L1030.4 326.3 L1033.4 327.6 L1036.4 329.1 L1039.4 330.5 L1042.4 332.1 L1045.4 333.8 L1048.4 335.5 L1051.4 337.2 L1054.4 339.1 L1057.4 341.0 L1060.4 343.0 L1063.4 345.1 L1066.4 347.2 L1069.4 349.4 L1072.4 351.6 L1075.4 353.9 L1078.4 356.3 L1081.4 358.7 L1084.4 361.2 L1087.4 363.8 L1090.4 366.4 L1093.4 369.1 L1096.4 371.8 L1099.4 374.6 L1102.4 377.4 L1105.4 380.3 L1108.4 383.2 L1111.4 386.2 L1114.4 389.3 L1117.4 392.4 L1120.4 395.5 L1123.4 398.6 L1126.4 401.9 L1129.4 405.1 L1132.4 408.4 L1135.4 411.7 L1138.4 415.1 L1141.4 418.4 L1144.4 421.9 L1147.4 425.3 L1150.4 428.8 L1153.4 432.3 L1156.4 435.8 L1159.4 439.3 L1162.4 442.9 L1165.4 446.4 L1168.4 450.0 L1171.4 453.6 L1174.4 457.2 L1177.4 460.9 L1180.4 464.5 L1183.4 468.1 L1186.4 471.8 L1189.4 475.4 L1192.4 479.1 L1195.4 482.7 L1198.4 486.3 L1201.4 490.0 L1204.4 493.6 L1207.4 497.2 L1210.4 500.9 L1213.4 504.5 L1216.4 508.1 L1219.4 511.6 L1222.4 515.2 L1225.4 518.7 L1228.4 522.2 L1231.4 525.7 L1234.4 529.2 L1237.4 532.7 L1240.4 536.1 L1243.4 539.5 L1246.4 542.9 L1249.4 546.4 L1252.4 549.8 L1255.4 553.2 L1258.4 556.6 L1261.4 560.0 L1264.4 563.4 L1267.4 566.8 L1270.4 570.3 L1273.4 573.7 L1276.4 577.2 L1279.4 580.7 L1282.4 584.2 L1285.4 587.8 L1288.4 591.4 L1291.4 595.0 L1294.4 598.7 L1297.4 602.4 L1300.4 606.1 L1303.4 609.9 L1306.4 613.7 L1309.4 617.6 L1312.4 621.5 L1315.4 625.5 L1318.4 629.4 L1321.4 633.4 L1324.4 637.5 L1327.4 641.5 L1330.4 645.6 L1333.4 649.7 L1336.4 653.8 L1339.4 657.9 L1342.4 662.0 L1345.4 666.1 L1348.4 670.2 L1351.4 674.3 L1354.4 678.4 L1357.4 682.5 L1360.4 686.6 L1363.4 690.7 L1366.4 694.8 L1369.4 698.8 L1372.4 702.8 L1375.4 706.8 L1378.4 710.8 L1381.4 714.7 L1384.4 718.6 L1387.4 722.5 L1390.4 726.3 L1393.4 730.1 L1396.4 733.9 L1399.4 737.6 L1402.4 741.3 L1405.4 745.0 L1408.4 748.7 L1411.4 752.3 L1414.4 755.9 L1417.4 759.5 L1420.4 763.1 L1423.4 766.6 L1426.4 770.1 L1429.4 773.6 L1432.4 777.1 L1435.4 780.6 L1438.4 784.0 L1441.4 787.5 L1444.4 790.9 L1447.4 794.3 L1450.4 797.7 L1453.4 801.0 L1456.4 804.4 L1459.4 807.7 L1462.4 811.1 L1465.4 814.4 L1468.4 817.7 L1471.4 821.0 L1474.4 824.3 L1477.4 827.6 L1480.4 830.8 L1483.4 834.1 L1486.4 837.3 L1489.4 840.5 L1492.4 843.7 L1495.4 846.9 L1498.4 850.0 L1501.4 853.2 L1504.4 856.3 L1507.4 859.4 L1510.4 862.4 L1513.4 865.5 L1516.4 868.5 L1519.4 871.5 L1522.4 874.5 L1525.4 877.4 L1528.4 880.4 L1531.4 883.3 L1534.4 886.1 L1537.4 889.0 L1540.4 891.8 L1543.4 894.5 L1546.4 897.3 L1549.4 900.0 L1552.4 902.7 L1555.4 905.4 L1558.4 908.0 L1561.4 910.6 L1564.4 913.2 L1567.4 915.8 L1570.4 918.3 L1573.4 920.9 L1576.4 923.4 L1579.4 925.9 L1582.4 928.3 L1585.4 930.8 L1588.4 933.2 L1591.4 935.6 L1594.4 938.0 L1597.4 940.4 L1600.4 942.8 L1603.4 945.1 L1606.4 947.5 L1609.4 949.8 L1612.4 952.2 L1615.4 954.5 L1618.4 956.8 L1621.4 959.1 L1624.4 961.4 L1627.4 963.7 L1630.4 966.0 L1633.4 968.2 L1636.4 970.5 L1639.4 972.7 L1642.4 974.9 L1645.4 977.1 L1648.4 979.3 L1651.4 981.5 L1654.4 983.7 L1657.4 985.8 L1660.4 987.9 L1663.4 990.0 L1666.4 992.0 L1669.4 994.1 L1672.4 996.0 L1675.4 998.0 L1678.4 1000.0 L1681.4 1001.9 L1684.4 1003.7 L1687.4 1005.6 L1690.4 1007.4 L1693.4 1009.2 L1696.4 1010.9 L1699.4 1012.6 L1702.4 1014.3 L1705.4 1016.0 L1708.4 1017.7 L1711.4 1019.3 L1714.4 1021.0 L1717.4 1022.6 L1720.4 1024.2 L1723.4 1025.7 L1726.4 1027.3 L1729.4 1028.9 L1732.4 1030.4 L1735.4 1031.9 L1738.4 1033.5 L1741.4 1035.0 L1744.4 1036.5 L1747.4 1038.0 L1750.4 1039.5 L1753.4 1041.0 L1756.4 1042.4 L1759.4 1043.9 L1762.4 1045.4 L1765.4 1046.9 L1768.4 1048.3 L1771.4 1049.8 L1774.4 1051.2 L1776.0 1052.0"/>
<path d="M364.4 808.5 L367.4 804.3 L370.4 800.1 L373.4 795.9 L376.4 791.7 L379.4 787.5 L382.4 783.3 L385.4 779.1 L388.4 774.8 L391.4 770.6 L394.4 766.3 L397.4 762.1 L400.4 757.8 L403.4 753.5 L406.4 749.2 L409.4 744.9 L412.4 740.5 L415.4 736.1 L418.4 731.8 L421.4 727.4 L424.4 722.9 L427.4 718.5 L430.4 714.0 L433.4 709.5 L436.4 705.0 L439.4 700.5 L442.4 696.0 L445.4 691.5 L448.4 686.9 L451.4 682.4 L454.4 677.8 L457.4 673.3 L460.4 668.7 L463.4 664.1 L466.4 659.6 L469.4 655.0 L472.4 650.4 L475.4 645.9 L478.4 641.3 L481.4 636.7 L484.4 632.2 L487.4 627.6 L490.4 623.1 L493.4 618.6 L496.4 614.1 L499.4 609.6 L502.4 605.1 L505.4 600.6 L508.4 596.1 L511.4 591.7 L514.4 587.2 L517.4 582.8 L520.4 578.4 L523.4 574.0 L526.4 569.6 L529.4 565.2 L532.4 560.9 L535.4 556.5 L538.4 552.2 L541.4 547.9 L544.4 543.6 L547.4 539.3 L550.4 535.0 L553.4 530.8 L556.4 526.5 L559.4 522.3 L562.4 518.1 L565.4 513.9 L568.4 509.8 L571.4 505.6 L574.4 501.5 L577.4 497.4 L580.4 493.3 L583.4 489.2 L586.4 485.2 L589.4 481.1 L592.4 477.1 L595.4 473.1 L598.4 469.2 L601.4 465.2 L604.4 461.3 L607.4 457.4 L610.4 453.6 L613.4 449.7 L616.4 445.9 L619.4 442.2 L622.4 438.4 L625.4 434.7 L628.4 431.1 L631.4 427.4 L634.4 423.8 L637.4 420.3 L640.4 416.7 L643.4 413.3 L646.4 409.8 L649.4 406.4 L652.4 403.1 L655.4 399.8 L658.4 396.5 L661.4 393.3 L664.4 390.1 L667.4 387.0 L670.4 383.9 L673.4 380.9 L676.4 377.9 L679.4 374.9 L682.4 372.0 L685.4 369.2 L688.4 366.3 L691.4 363.6 L694.4 360.8 L697.4 358.2 L700.4 355.5 L703.4 352.9 L706.4 350.4 L709.4 347.8 L712.4 345.4 L715.4 342.9 L718.4 340.5 L721.4 338.2 L724.4 335.8 L727.4 333.5 L730.4 331.3 L733.4 329.1 L736.4 326.9 L739.4 324.8 L742.4 322.7 L745.4 320.6 L748.4 318.6 L751.4 316.6 L754.4 314.7 L757.4 312.7 L760.4 310.9 L763.4 309.0 L766.4 307.2 L769.4 305.4 L772.4 303.7 L775.4 302.0 L778.4 300.3 L781.4 298.6 L784.4 297.0 L787.4 295.5 L790.4 293.9 L793.4 292.4 L796.4 290.9 L799.4 289.5 L802.4 288.1 L805.4 286.7 L808.4 285.3 L811.4 284.0 L814.4 282.7 L817.4 281.5 L820.4 280.3 L823.4 279.1 L826.4 277.9 L829.4 276.8 L832.4 275.7 L835.4 274.6 L838.4 273.6 L841.4 272.6 L844.4 271.7 L847.4 270.7 L850.4 269.9 L853.4 269.0 L856.4 268.2 L859.4 267.4 L862.4 266.7 L865.4 266.0 L868.4 265.4 L871.4 264.8 L874.4 264.2 L877.4 263.7 L880.4 263.2 L883.4 262.8 L886.4 262.4 L889.4 262.1 L892.4 261.8 L895.4 261.6 L898.4 261.4 L901.4 261.3 L904.4 261.2 L907.4 261.1 L910.4 261.2 L913.4 261.2 L916.4 261.4 L919.4 261.6 L922.4 261.9 L925.4 262.3 L928.4 262.7 L931.4 263.2 L934.4 263.8 L937.4 264.4 L940.4 265.2 L943.4 266.0 L946.4 266.9 L949.4 268.0 L952.4 269.1 L955.4 270.3 L958.4 271.6 L961.4 273.0 L964.4 274.5 L967.4 276.0 L970.4 277.7 L973.4 279.6 L976.4 281.5 L979.4 283.5 L982.4 285.6 L985.4 287.8 L988.4 290.1 L991.4 292.5 L994.4 295.0 L997.4 297.4 L1000.4 299.9 L1003.4 302.5 L1006.4 305.0 L1009.4 307.5 L1012.4 310.1 L1015.4 312.7 L1018.4 315.3 L1021.4 317.9 L1024.4 320.5 L1027.4 323.1 L1030.4 325.7 L1033.4 328.3 L1036.4 330.9 L1039.4 333.5 L1042.4 336.1 L1045.4 338.8 L1048.4 341.4 L1051.4 344.0 L1054.4 346.6 L1057.4 349.2 L1060.4 351.8 L1063.4 354.4 L1066.4 357.0 L1069.4 359.6 L1072.4 362.2 L1075.4 364.8 L1078.4 367.3 L1081.4 369.9 L1084.4 372.5 L1087.4 375.1 L1090.4 377.7 L1093.4 380.4 L1096.4 383.0 L1099.4 385.6 L1102.4 388.3 L1105.4 391.0 L1108.4 393.7 L1111.4 396.4 L1114.4 399.1 L1117.4 401.9 L1120.4 404.7 L1123.4 407.5 L1126.4 410.3 L1129.4 413.2 L1132.4 416.1 L1135.4 419.1 L1138.4 422.0 L1141.4 425.0 L1144.4 428.1 L1147.4 431.2 L1150.4 434.3 L1153.4 437.5 L1156.4 440.7 L1159.4 443.9 L1162.4 447.1 L1165.4 450.4 L1168.4 453.7 L1171.4 457.0 L1174.4 460.3 L1177.4 463.7 L1180.4 467.0 L1183.4 470.4 L1186.4 473.8 L1189.4 477.2 L1192.4 480.6 L1195.4 484.1 L1198.4 487.5 L1201.4 490.9 L1204.4 494.4 L1207.4 497.8 L1210.4 501.2 L1213.4 504.7 L1216.4 508.1 L1219.4 511.5 L1222.4 515.0 L1225.4 518.4 L1228.4 521.8 L1231.4 525.1 L1234.4 528.5 L1237.4 531.9 L1240.4 535.2 L1243.4 538.6 L1246.4 541.9 L1249.4 545.2 L1252.4 548.5 L1255.4 551.8 L1258.4 555.1 L1261.4 558.4 L1264.4 561.6 L1267.4 564.9 L1270.4 568.1 L1273.4 571.4 L1276.4 574.6 L1279.4 577.9 L1282.4 581.1 L1285.4 584.3 L1288.4 587.6 L1291.4 590.8 L1294.4 594.0 L1297.4 597.2 L1300.4 600.5 L1303.4 603.7 L1306.4 606.9 L1309.4 610.1 L1312.4 613.4 L1315.4 616.6 L1318.4 619.8 L1321.4 623.0 L1324.4 626.3 L1327.4 629.5 L1330.4 632.8 L1333.4 636.0 L1336.4 639.3 L1339.4 642.5 L1342.4 645.8 L1345.4 649.0 L1348.4 652.3 L1351.4 655.6 L1354.4 658.9 L1357.4 662.2 L1360.4 665.5 L1363.4 668.8 L1366.4 672.1 L1369.4 675.4 L1372.4 678.8 L1375.4 682.1 L1378.4 685.5 L1381.4 688.8 L1384.4 692.2 L1387.4 695.6 L1390.4 699.0 L1393.4 702.4 L1396.4 705.8 L1399.4 709.2 L1402.4 712.6 L1405.4 716.1 L1408.4 719.5 L1411.4 722.9 L1414.4 726.3 L1417.4 729.8 L1420.4 733.2 L1423.4 736.6 L1426.4 740.1 L1429.4 743.5 L1432.4 746.9 L1435.4 750.3 L1438.4 753.7 L1441.4 757.1 L1444.4 760.5 L1447.4 763.9 L1450.4 767.2 L1453.4 770.6 L1456.4 773.9 L1459.4 777.2 L1462.4 780.5 L1465.4 783.8 L1468.4 787.1 L1471.4 790.4 L1474.4 793.6 L1477.4 796.9 L1480.4 800.1 L1483.4 803.3 L1486.4 806.5 L1489.4 809.6 L1492.4 812.8 L1495.4 815.9 L1498.4 819.0 L1501.4 822.1 L1504.4 825.1 L1507.4 828.2 L1510.4 831.2 L1513.4 834.2 L1516.4 837.2 L1519.4 840.1 L1522.4 843.1 L1525.4 846.0 L1528.4 848.8 L1531.4 851.7 L1534.4 854.5 L1537.4 857.4 L1540.4 860.1 L1543.4 862.9 L1546.4 865.6 L1549.4 868.3 L1552.4 871.0 L1555.4 873.7 L1558.4 876.3 L1561.4 879.0 L1564.4 881.6 L1567.4 884.2 L1570.4 886.7 L1573.4 889.3 L1576.4 891.8 L1579.4 894.3 L1582.4 896.8 L1585.4 899.3 L1588.4 901.8 L1591.4 904.3 L1594.4 906.7 L1597.4 909.1 L1600.4 911.6 L1603.4 914.0 L1606.4 916.4 L1609.4 918.8 L1612.4 921.2 L1615.4 923.6 L1618.4 926.0 L1621.4 928.4 L1624.4 930.8 L1627.4 933.1 L1630.4 935.5 L1633.4 937.9 L1636.4 940.2 L1639.4 942.6 L1642.4 944.9 L1645.4 947.3 L1648.4 949.6 L1651.4 951.9 L1654.4 954.2 L1657.4 956.5 L1660.4 958.8 L1663.4 961.0 L1666.4 963.3 L1669.4 965.5 L1672.4 967.8 L1675.4 970.0 L1678.4 972.2 L1681.4 974.3 L1684.4 976.5 L1687.4 978.7 L1690.4 980.8 L1693.4 982.9 L1696.4 985.0 L1699.4 987.0 L1702.4 989.1 L1705.4 991.1 L1708.4 993.1 L1711.4 995.1 L1714.4 997.0 L1717.4 999.0 L1720.4 1000.9 L1723.4 1002.8 L1726.4 1004.6 L1729.4 1006.4 L1732.4 1008.3 L1735.4 1010.1 L1738.4 1011.8 L1741.4 1013.6 L1744.4 1015.3 L1747.4 1017.1 L1750.4 1018.8 L1753.4 1020.5 L1756.4 1022.2 L1759.4 1023.8 L1762.4 1025.5 L1765.4 1027.2 L1768.4 1028.8 L1771.4 1030.5 L1774.4 1032.2 L1776.0 1033.1"/>
<path d="M364.4 782.6 L367.4 778.2 L370.4 773.8 L373.4 769.5 L376.4 765.1 L379.4 760.7 L382.4 756.3 L385.4 751.9 L388.4 747.5 L391.4 743.1 L394.4 738.7 L397.4 734.2 L400.4 729.7 L403.4 725.2 L406.4 720.7 L409.4 716.2 L412.4 711.6 L415.4 707.0 L418.4 702.4 L421.4 697.7 L424.4 693.0 L427.4 688.3 L430.4 683.5 L433.4 678.7 L436.4 673.9 L439.4 669.1 L442.4 664.3 L445.4 659.5 L448.4 654.6 L451.4 649.7 L454.4 644.9 L457.4 640.0 L460.4 635.1 L463.4 630.3 L466.4 625.4 L469.4 620.6 L472.4 615.7 L475.4 610.9 L478.4 606.1 L481.4 601.3 L484.4 596.5 L487.4 591.7 L490.4 586.9 L493.4 582.1 L496.4 577.4 L499.4 572.6 L502.4 567.8 L505.4 563.1 L508.4 558.4 L511.4 553.6 L514.4 548.9 L517.4 544.2 L520.4 539.6 L523.4 534.9 L526.4 530.3 L529.4 525.6 L532.4 521.0 L535.4 516.4 L538.4 511.9 L541.4 507.3 L544.4 502.8 L547.4 498.3 L550.4 493.9 L553.4 489.5 L556.4 485.1 L559.4 480.7 L562.4 476.4 L565.4 472.1 L568.4 467.9 L571.4 463.7 L574.4 459.6 L577.4 455.5 L580.4 451.4 L583.4 447.5 L586.4 443.5 L589.4 439.7 L592.4 435.9 L595.4 432.1 L598.4 428.4 L601.4 424.8 L604.4 421.2 L607.4 417.7 L610.4 414.2 L613.4 410.7 L616.4 407.3 L619.4 404.0 L622.4 400.7 L625.4 397.4 L628.4 394.1 L631.4 390.9 L634.4 387.8 L637.4 384.7 L640.4 381.6 L643.4 378.5 L646.4 375.5 L649.4 372.5 L652.4 369.5 L655.4 366.6 L658.4 363.6 L661.4 360.7 L664.4 357.9 L667.4 355.0 L670.4 352.2 L673.4 349.4 L676.4 346.6 L679.4 343.9 L682.4 341.2 L685.4 338.5 L688.4 335.8 L691.4 333.2 L694.4 330.6 L697.4 328.1 L700.4 325.5 L703.4 323.1 L706.4 320.6 L709.4 318.2 L712.4 315.8 L715.4 313.5 L718.4 311.2 L721.4 308.9 L724.4 306.7 L727.4 304.5 L730.4 302.3 L733.4 300.2 L736.4 298.2 L739.4 296.2 L742.4 294.2 L745.4 292.3 L748.4 290.4 L751.4 288.6 L754.4 286.8 L757.4 285.1 L760.4 283.4 L763.4 281.7 L766.4 280.1 L769.4 278.5 L772.4 277.0 L775.4 275.5 L778.4 274.1 L781.4 272.7 L784.4 271.4 L787.4 270.1 L790.4 268.8 L793.4 267.6 L796.4 266.5 L799.4 265.3 L802.4 264.3 L805.4 263.2 L808.4 262.2 L811.4 261.3 L814.4 260.4 L817.4 259.5 L820.4 258.7 L823.4 257.9 L826.4 257.2 L829.4 256.5 L832.4 255.8 L835.4 255.2 L838.4 254.7 L841.4 254.1 L844.4 253.7 L847.4 253.2 L850.4 252.8 L853.4 252.5 L856.4 252.1 L859.4 251.9 L862.4 251.6 L865.4 251.4 L868.4 251.3 L871.4 251.2 L874.4 251.1 L877.4 251.0 L880.4 251.0 L883.4 251.1 L886.4 251.2 L889.4 251.3 L892.4 251.4 L895.4 251.6 L898.4 251.9 L901.4 252.1 L904.4 252.4 L907.4 252.8 L910.4 253.2 L913.4 253.6 L916.4 254.1 L919.4 254.6 L922.4 255.2 L925.4 255.8 L928.4 256.5 L931.4 257.3 L934.4 258.1 L937.4 259.0 L940.4 260.0 L943.4 261.0 L946.4 262.1 L949.4 263.2 L952.4 264.5 L955.4 265.8 L958.4 267.2 L961.4 268.7 L964.4 270.3 L967.4 271.9 L970.4 273.7 L973.4 275.5 L976.4 277.5 L979.4 279.5 L982.4 281.7 L985.4 283.9 L988.4 286.2 L991.4 288.6 L994.4 291.0 L997.4 293.5 L1000.4 296.0 L1003.4 298.5 L1006.4 301.0 L1009.4 303.5 L1012.4 306.0 L1015.4 308.5 L1018.4 311.1 L1021.4 313.6 L1024.4 316.2 L1027.4 318.7 L1030.4 321.3 L1033.4 323.9 L1036.4 326.4 L1039.4 329.0 L1042.4 331.6 L1045.4 334.1 L1048.4 336.7 L1051.4 339.3 L1054.4 341.8 L1057.4 344.4 L1060.4 346.9 L1063.4 349.5 L1066.4 352.0 L1069.4 354.6 L1072.4 357.1 L1075.4 359.7 L1078.4 362.2 L1081.4 364.8 L1084.4 367.3 L1087.4 369.9 L1090.4 372.5 L1093.4 375.1 L1096.4 377.7 L1099.4 380.3 L1102.4 382.9 L1105.4 385.5 L1108.4 388.2 L1111.4 390.9 L1114.4 393.6 L1117.4 396.3 L1120.4 399.0 L1123.4 401.8 L1126.4 404.6 L1129.4 407.4 L1132.4 410.2 L1135.4 413.1 L1138.4 416.0 L1141.4 418.9 L1144.4 421.9 L1147.4 424.9 L1150.4 427.9 L1153.4 431.0 L1156.4 434.0 L1159.4 437.1 L1162.4 440.3 L1165.4 443.4 L1168.4 446.6 L1171.4 449.8 L1174.4 453.0 L1177.4 456.2 L1180.4 459.4 L1183.4 462.6 L1186.4 465.9 L1189.4 469.2 L1192.4 472.4 L1195.4 475.7 L1198.4 479.0 L1201.4 482.3 L1204.4 485.5 L1207.4 488.8 L1210.4 492.1 L1213.4 495.4 L1216.4 498.7 L1219.4 501.9 L1222.4 505.2 L1225.4 508.4 L1228.4 511.7 L1231.4 514.9 L1234.4 518.1 L1237.4 521.3 L1240.4 524.5 L1243.4 527.7 L1246.4 530.9 L1249.4 534.0 L1252.4 537.2 L1255.4 540.4 L1258.4 543.5 L1261.4 546.7 L1264.4 549.9 L1267.4 553.1 L1270.4 556.3 L1273.4 559.5 L1276.4 562.7 L1279.4 565.9 L1282.4 569.2 L1285.4 572.4 L1288.4 575.7 L1291.4 579.0 L1294.4 582.3 L1297.4 585.7 L1300.4 589.0 L1303.4 592.4 L1306.4 595.8 L1309.4 599.3 L1312.4 602.8 L1315.4 606.2 L1318.4 609.7 L1321.4 613.3 L1324.4 616.8 L1327.4 620.4 L1330.4 623.9 L1333.4 627.5 L1336.4 631.1 L1339.4 634.7 L1342.4 638.3 L1345.4 642.0 L1348.4 645.6 L1351.4 649.2 L1354.4 652.8 L1357.4 656.5 L1360.4 660.1 L1363.4 663.7 L1366.4 667.4 L1369.4 671.0 L1372.4 674.6 L1375.4 678.2 L1378.4 681.8 L1381.4 685.4 L1384.4 689.0 L1387.4 692.6 L1390.4 696.1 L1393.4 699.7 L1396.4 703.2 L1399.4 706.8 L1402.4 710.3 L1405.4 713.8 L1408.4 717.3 L1411.4 720.8 L1414.4 724.2 L1417.4 727.7 L1420.4 731.1 L1423.4 734.6 L1426.4 738.0 L1429.4 741.4 L1432.4 744.8 L1435.4 748.2 L1438.4 751.6 L1441.4 755.0 L1444.4 758.3 L1447.4 761.7 L1450.4 765.0 L1453.4 768.3 L1456.4 771.6 L1459.4 774.9 L1462.4 778.2 L1465.4 781.5 L1468.4 784.7 L1471.4 788.0 L1474.4 791.2 L1477.4 794.4 L1480.4 797.6 L1483.4 800.8 L1486.4 804.0 L1489.4 807.1 L1492.4 810.3 L1495.4 813.4 L1498.4 816.5 L1501.4 819.5 L1504.4 822.6 L1507.4 825.6 L1510.4 828.7 L1513.4 831.7 L1516.4 834.6 L1519.4 837.6 L1522.4 840.5 L1525.4 843.4 L1528.4 846.3 L1531.4 849.2 L1534.4 852.0 L1537.4 854.8 L1540.4 857.6 L1543.4 860.4 L1546.4 863.1 L1549.4 865.8 L1552.4 868.5 L1555.4 871.2 L1558.4 873.8 L1561.4 876.4 L1564.4 879.0 L1567.4 881.6 L1570.4 884.2 L1573.4 886.7 L1576.4 889.3 L1579.4 891.8 L1582.4 894.3 L1585.4 896.8 L1588.4 899.3 L1591.4 901.7 L1594.4 904.2 L1597.4 906.6 L1600.4 909.1 L1603.4 911.5 L1606.4 913.9 L1609.4 916.3 L1612.4 918.7 L1615.4 921.1 L1618.4 923.5 L1621.4 925.9 L1624.4 928.3 L1627.4 930.7 L1630.4 933.1 L1633.4 935.4 L1636.4 937.8 L1639.4 940.2 L1642.4 942.5 L1645.4 944.9 L1648.4 947.2 L1651.4 949.5 L1654.4 951.9 L1657.4 954.2 L1660.4 956.5 L1663.4 958.8 L1666.4 961.0 L1669.4 963.3 L1672.4 965.5 L1675.4 967.8 L1678.4 970.0 L1681.4 972.2 L1684.4 974.3 L1687.4 976.5 L1690.4 978.6 L1693.4 980.8 L1696.4 982.9 L1699.4 984.9 L1702.4 987.0 L1705.4 989.0 L1708.4 991.1 L1711.4 993.0 L1714.4 995.0 L1717.4 996.9 L1720.4 998.9 L1723.4 1000.7 L1726.4 1002.6 L1729.4 1004.4 L1732.4 1006.3 L1735.4 1008.1 L1738.4 1009.8 L1741.4 1011.6 L1744.4 1013.3 L1747.4 1015.1 L1750.4 1016.8 L1753.4 1018.5 L1756.4 1020.2 L1759.4 1021.9 L1762.4 1023.5 L1765.4 1025.2 L1768.4 1026.9 L1771.4 1028.5 L1774.4 1030.2 L1776.0 1031.1"/>
<path d="M364.4 782.0 L367.4 777.5 L370.4 772.9 L373.4 768.3 L376.4 763.7 L379.4 759.2 L382.4 754.6 L385.4 750.0 L388.4 745.4 L391.4 740.8 L394.4 736.1 L397.4 731.5 L400.4 726.9 L403.4 722.2 L406.4 717.5 L409.4 712.8 L412.4 708.1 L415.4 703.4 L418.4 698.7 L421.4 693.9 L424.4 689.1 L427.4 684.3 L430.4 679.5 L433.4 674.7 L436.4 669.9 L439.4 665.0 L442.4 660.2 L445.4 655.3 L448.4 650.4 L451.4 645.6 L454.4 640.7 L457.4 635.8 L460.4 631.0 L463.4 626.1 L466.4 621.3 L469.4 616.4 L472.4 611.6 L475.4 606.8 L478.4 602.0 L481.4 597.2 L484.4 592.4 L487.4 587.6 L490.4 582.8 L493.4 578.1 L496.4 573.3 L499.4 568.6 L502.4 563.8 L505.4 559.1 L508.4 554.4 L511.4 549.6 L514.4 544.9 L517.4 540.2 L520.4 535.6 L523.4 530.9 L526.4 526.3 L529.4 521.6 L532.4 517.0 L535.4 512.4 L538.4 507.9 L541.4 503.4 L544.4 498.8 L547.4 494.4 L550.4 489.9 L553.4 485.5 L556.4 481.1 L559.4 476.7 L562.4 472.4 L565.4 468.1 L568.4 463.9 L571.4 459.7 L574.4 455.6 L577.4 451.5 L580.4 447.4 L583.4 443.5 L586.4 439.5 L589.4 435.7 L592.4 431.9 L595.4 428.1 L598.4 424.4 L601.4 420.8 L604.4 417.2 L607.4 413.7 L610.4 410.2 L613.4 406.7 L616.4 403.3 L619.4 400.0 L622.4 396.6 L625.4 393.4 L628.4 390.1 L631.4 386.9 L634.4 383.8 L637.4 380.7 L640.4 377.6 L643.4 374.5 L646.4 371.5 L649.4 368.5 L652.4 365.5 L655.4 362.6 L658.4 359.6 L661.4 356.7 L664.4 353.9 L667.4 351.0 L670.4 348.2 L673.4 345.4 L676.4 342.6 L679.4 339.9 L682.4 337.2 L685.4 334.5 L688.4 331.8 L691.4 329.2 L694.4 326.6 L697.4 324.1 L700.4 321.5 L703.4 319.1 L706.4 316.6 L709.4 314.2 L712.4 311.8 L715.4 309.5 L718.4 307.2 L721.4 304.9 L724.4 302.7 L727.4 300.5 L730.4 298.3 L733.4 296.2 L736.4 294.2 L739.4 292.1 L742.4 290.2 L745.4 288.3 L748.4 286.4 L751.4 284.5 L754.4 282.7 L757.4 281.0 L760.4 279.3 L763.4 277.6 L766.4 276.0 L769.4 274.5 L772.4 273.0 L775.4 271.5 L778.4 270.1 L781.4 268.7 L784.4 267.3 L787.4 266.0 L790.4 264.8 L793.4 263.6 L796.4 262.4 L799.4 261.3 L802.4 260.3 L805.4 259.2 L808.4 258.3 L811.4 257.3 L814.4 256.4 L817.4 255.6 L820.4 254.8 L823.4 254.1 L826.4 253.4 L829.4 252.7 L832.4 252.1 L835.4 251.5 L838.4 251.0 L841.4 250.5 L844.4 250.0 L847.4 249.6 L850.4 249.3 L853.4 248.9 L856.4 248.6 L859.4 248.4 L862.4 248.2 L865.4 248.0 L868.4 247.9 L871.4 247.8 L874.4 247.7 L877.4 247.7 L880.4 247.7 L883.4 247.7 L886.4 247.8 L889.4 247.9 L892.4 248.0 L895.4 248.2 L898.4 248.4 L901.4 248.7 L904.4 249.0 L907.4 249.3 L910.4 249.7 L913.4 250.1 L916.4 250.6 L919.4 251.2 L922.4 251.8 L925.4 252.4 L928.4 253.1 L931.4 253.9 L934.4 254.7 L937.4 255.6 L940.4 256.6 L943.4 257.7 L946.4 258.8 L949.4 260.0 L952.4 261.3 L955.4 262.6 L958.4 264.1 L961.4 265.6 L964.4 267.2 L967.4 269.0 L970.4 270.8 L973.4 272.7 L976.4 274.7 L979.4 276.8 L982.4 279.0 L985.4 281.3 L988.4 283.7 L991.4 286.1 L994.4 288.6 L997.4 291.1 L1000.4 293.7 L1003.4 296.2 L1006.4 298.8 L1009.4 301.3 L1012.4 303.9 L1015.4 306.5 L1018.4 309.0 L1021.4 311.6 L1024.4 314.2 L1027.4 316.7 L1030.4 319.3 L1033.4 321.9 L1036.4 324.5 L1039.4 327.0 L1042.4 329.6 L1045.4 332.2 L1048.4 334.7 L1051.4 337.3 L1054.4 339.9 L1057.4 342.4 L1060.4 345.0 L1063.4 347.5 L1066.4 350.1 L1069.4 352.6 L1072.4 355.2 L1075.4 357.7 L1078.4 360.3 L1081.4 362.8 L1084.4 365.4 L1087.4 368.0 L1090.4 370.5 L1093.4 373.1 L1096.4 375.7 L1099.4 378.3 L1102.4 380.9 L1105.4 383.6 L1108.4 386.2 L1111.4 388.9 L1114.4 391.6 L1117.4 394.3 L1120.4 397.0 L1123.4 399.8 L1126.4 402.6 L1129.4 405.4 L1132.4 408.2 L1135.4 411.1 L1138.4 414.0 L1141.4 416.9 L1144.4 419.9 L1147.4 422.9 L1150.4 425.9 L1153.4 428.9 L1156.4 432.0 L1159.4 435.1 L1162.4 438.2 L1165.4 441.4 L1168.4 444.5 L1171.4 447.7 L1174.4 450.9 L1177.4 454.1 L1180.4 457.3 L1183.4 460.6 L1186.4 463.8 L1189.4 467.1 L1192.4 470.4 L1195.4 473.7 L1198.4 476.9 L1201.4 480.2 L1204.4 483.5 L1207.4 486.8 L1210.4 490.1 L1213.4 493.4 L1216.4 496.6 L1219.4 499.9 L1222.4 503.2 L1225.4 506.5 L1228.4 509.7 L1231.4 512.9 L1234.4 516.2 L1237.4 519.4 L1240.4 522.6 L1243.4 525.8 L1246.4 529.0 L1249.4 532.2 L1252.4 535.4 L1255.4 538.6 L1258.4 541.8 L1261.4 545.0 L1264.4 548.2 L1267.4 551.4 L1270.4 554.6 L1273.4 557.8 L1276.4 561.1 L1279.4 564.3 L1282.4 567.6 L1285.4 570.8 L1288.4 574.1 L1291.4 577.4 L1294.4 580.8 L1297.4 584.1 L1300.4 587.5 L1303.4 590.9 L1306.4 594.3 L1309.4 597.7 L1312.4 601.2 L1315.4 604.7 L1318.4 608.2 L1321.4 611.7 L1324.4 615.2 L1327.4 618.7 L1330.4 622.3 L1333.4 625.9 L1336.4 629.4 L1339.4 633.0 L1342.4 636.6 L1345.4 640.2 L1348.4 643.8 L1351.4 647.4 L1354.4 651.0 L1357.4 654.7 L1360.4 658.3 L1363.4 661.9 L1366.4 665.5 L1369.4 669.1 L1372.4 672.7 L1375.4 676.3 L1378.4 679.9 L1381.4 683.5 L1384.4 687.0 L1387.4 690.6 L1390.4 694.1 L1393.4 697.7 L1396.4 701.2 L1399.4 704.7 L1402.4 708.3 L1405.4 711.8 L1408.4 715.2 L1411.4 718.7 L1414.4 722.2 L1417.4 725.7 L1420.4 729.1 L1423.4 732.5 L1426.4 736.0 L1429.4 739.4 L1432.4 742.8 L1435.4 746.2 L1438.4 749.6 L1441.4 752.9 L1444.4 756.3 L1447.4 759.6 L1450.4 763.0 L1453.4 766.3 L1456.4 769.6 L1459.4 772.9 L1462.4 776.2 L1465.4 779.5 L1468.4 782.7 L1471.4 786.0 L1474.4 789.2 L1477.4 792.4 L1480.4 795.6 L1483.4 798.8 L1486.4 802.0 L1489.4 805.1 L1492.4 808.3 L1495.4 811.4 L1498.4 814.5 L1501.4 817.6 L1504.4 820.6 L1507.4 823.7 L1510.4 826.7 L1513.4 829.7 L1516.4 832.6 L1519.4 835.6 L1522.4 838.5 L1525.4 841.4 L1528.4 844.3 L1531.4 847.2 L1534.4 850.0 L1537.4 852.8 L1540.4 855.6 L1543.4 858.4 L1546.4 861.1 L1549.4 863.8 L1552.4 866.5 L1555.4 869.2 L1558.4 871.8 L1561.4 874.4 L1564.4 877.0 L1567.4 879.6 L1570.4 882.2 L1573.4 884.7 L1576.4 887.3 L1579.4 889.8 L1582.4 892.3 L1585.4 894.8 L1588.4 897.3 L1591.4 899.7 L1594.4 902.2 L1597.4 904.6 L1600.4 907.1 L1603.4 909.5 L1606.4 911.9 L1609.4 914.3 L1612.4 916.7 L1615.4 919.1 L1618.4 921.5 L1621.4 923.9 L1624.4 926.3 L1627.4 928.7 L1630.4 931.1 L1633.4 933.5 L1636.4 935.8 L1639.4 938.2 L1642.4 940.6 L1645.4 942.9 L1648.4 945.3 L1651.4 947.6 L1654.4 949.9 L1657.4 952.2 L1660.4 954.5 L1663.4 956.8 L1666.4 959.1 L1669.4 961.4 L1672.4 963.6 L1675.4 965.8 L1678.4 968.0 L1681.4 970.2 L1684.4 972.4 L1687.4 974.6 L1690.4 976.7 L1693.4 978.8 L1696.4 980.9 L1699.4 983.0 L1702.4 985.0 L1705.4 987.1 L1708.4 989.1 L1711.4 991.1 L1714.4 993.0 L1717.4 994.9 L1720.4 996.8 L1723.4 998.7 L1726.4 1000.5 L1729.4 1002.4 L1732.4 1004.2 L1735.4 1005.9 L1738.4 1007.7 L1741.4 1009.4 L1744.4 1011.1 L1747.4 1012.8 L1750.4 1014.5 L1753.4 1016.2 L1756.4 1017.9 L1759.4 1019.5 L1762.4 1021.2 L1765.4 1022.8 L1768.4 1024.4 L1771.4 1026.1 L1774.4 1027.7 L1776.0 1028.6"/>
<path d="M364.4 732.5 L367.4 727.6 L370.4 722.7 L373.4 717.8 L376.4 712.9 L379.4 708.0 L382.4 703.1 L385.4 698.2 L388.4 693.2 L391.4 688.3 L394.4 683.3 L397.4 678.4 L400.4 673.4 L403.4 668.4 L406.4 663.3 L409.4 658.3 L412.4 653.3 L415.4 648.2 L418.4 643.1 L421.4 638.0 L424.4 632.8 L427.4 627.6 L430.4 622.5 L433.4 617.3 L436.4 612.0 L439.4 606.8 L442.4 601.6 L445.4 596.3 L448.4 591.1 L451.4 585.8 L454.4 580.6 L457.4 575.3 L460.4 570.1 L463.4 564.8 L466.4 559.6 L469.4 554.4 L472.4 549.1 L475.4 543.9 L478.4 538.8 L481.4 533.6 L484.4 528.4 L487.4 523.3 L490.4 518.2 L493.4 513.1 L496.4 508.0 L499.4 502.9 L502.4 497.8 L505.4 492.8 L508.4 487.8 L511.4 482.8 L514.4 477.8 L517.4 472.9 L520.4 468.0 L523.4 463.1 L526.4 458.2 L529.4 453.4 L532.4 448.6 L535.4 443.8 L538.4 439.0 L541.4 434.3 L544.4 429.6 L547.4 425.0 L550.4 420.4 L553.4 415.8 L556.4 411.3 L559.4 406.8 L562.4 402.4 L565.4 398.0 L568.4 393.6 L571.4 389.3 L574.4 385.1 L577.4 380.9 L580.4 376.8 L583.4 372.7 L586.4 368.8 L589.4 364.8 L592.4 361.0 L595.4 357.2 L598.4 353.4 L601.4 349.8 L604.4 346.2 L607.4 342.6 L610.4 339.1 L613.4 335.7 L616.4 332.3 L619.4 329.0 L622.4 325.7 L625.4 322.5 L628.4 319.3 L631.4 316.2 L634.4 313.2 L637.4 310.2 L640.4 307.2 L643.4 304.3 L646.4 301.4 L649.4 298.6 L652.4 295.9 L655.4 293.1 L658.4 290.5 L661.4 287.8 L664.4 285.2 L667.4 282.7 L670.4 280.2 L673.4 277.7 L676.4 275.3 L679.4 272.9 L682.4 270.6 L685.4 268.3 L688.4 266.1 L691.4 263.9 L694.4 261.7 L697.4 259.6 L700.4 257.5 L703.4 255.5 L706.4 253.5 L709.4 251.6 L712.4 249.7 L715.4 247.8 L718.4 246.0 L721.4 244.2 L724.4 242.5 L727.4 240.8 L730.4 239.1 L733.4 237.5 L736.4 236.0 L739.4 234.5 L742.4 233.0 L745.4 231.5 L748.4 230.2 L751.4 228.8 L754.4 227.5 L757.4 226.2 L760.4 225.0 L763.4 223.9 L766.4 222.7 L769.4 221.6 L772.4 220.6 L775.4 219.6 L778.4 218.7 L781.4 217.8 L784.4 216.9 L787.4 216.1 L790.4 215.3 L793.4 214.6 L796.4 213.9 L799.4 213.3 L802.4 212.7 L805.4 212.2 L808.4 211.7 L811.4 211.2 L814.4 210.9 L817.4 210.5 L820.4 210.2 L823.4 210.0 L826.4 209.8 L829.4 209.6 L832.4 209.5 L835.4 209.5 L838.4 209.5 L841.4 209.6 L844.4 209.7 L847.4 209.9 L850.4 210.1 L853.4 210.4 L856.4 210.7 L859.4 211.1 L862.4 211.5 L865.4 212.0 L868.4 212.5 L871.4 213.0 L874.4 213.6 L877.4 214.2 L880.4 214.9 L883.4 215.6 L886.4 216.3 L889.4 217.1 L892.4 217.9 L895.4 218.7 L898.4 219.5 L901.4 220.4 L904.4 221.3 L907.4 222.2 L910.4 223.1 L913.4 224.1 L916.4 225.2 L919.4 226.3 L922.4 227.5 L925.4 228.8 L928.4 230.2 L931.4 231.6 L934.4 233.2 L937.4 234.8 L940.4 236.6 L943.4 238.5 L946.4 240.5 L949.4 242.7 L952.4 244.9 L955.4 247.3 L958.4 249.7 L961.4 252.3 L964.4 254.9 L967.4 257.6 L970.4 260.4 L973.4 263.2 L976.4 266.1 L979.4 269.0 L982.4 271.9 L985.4 274.9 L988.4 277.9 L991.4 280.8 L994.4 283.8 L997.4 286.7 L1000.4 289.6 L1003.4 292.4 L1006.4 295.2 L1009.4 297.9 L1012.4 300.6 L1015.4 303.3 L1018.4 305.9 L1021.4 308.5 L1024.4 311.1 L1027.4 313.6 L1030.4 316.1 L1033.4 318.6 L1036.4 321.1 L1039.4 323.6 L1042.4 326.1 L1045.4 328.5 L1048.4 331.0 L1051.4 333.4 L1054.4 335.9 L1057.4 338.3 L1060.4 340.8 L1063.4 343.3 L1066.4 345.7 L1069.4 348.2 L1072.4 350.8 L1075.4 353.3 L1078.4 355.8 L1081.4 358.4 L1084.4 361.0 L1087.4 363.5 L1090.4 366.2 L1093.4 368.8 L1096.4 371.4 L1099.4 374.1 L1102.4 376.8 L1105.4 379.5 L1108.4 382.2 L1111.4 384.9 L1114.4 387.7 L1117.4 390.5 L1120.4 393.3 L1123.4 396.2 L1126.4 399.0 L1129.4 401.9 L1132.4 404.9 L1135.4 407.8 L1138.4 410.8 L1141.4 413.8 L1144.4 416.8 L1147.4 419.9 L1150.4 423.0 L1153.4 426.1 L1156.4 429.2 L1159.4 432.4 L1162.4 435.5 L1165.4 438.7 L1168.4 441.9 L1171.4 445.2 L1174.4 448.4 L1177.4 451.7 L1180.4 454.9 L1183.4 458.2 L1186.4 461.5 L1189.4 464.8 L1192.4 468.1 L1195.4 471.4 L1198.4 474.7 L1201.4 478.0 L1204.4 481.3 L1207.4 484.7 L1210.4 488.0 L1213.4 491.3 L1216.4 494.6 L1219.4 497.9 L1222.4 501.2 L1225.4 504.5 L1228.4 507.7 L1231.4 511.0 L1234.4 514.2 L1237.4 517.5 L1240.4 520.7 L1243.4 523.9 L1246.4 527.2 L1249.4 530.4 L1252.4 533.6 L1255.4 536.8 L1258.4 540.0 L1261.4 543.2 L1264.4 546.5 L1267.4 549.7 L1270.4 552.9 L1273.4 556.2 L1276.4 559.4 L1279.4 562.7 L1282.4 566.0 L1285.4 569.2 L1288.4 572.5 L1291.4 575.9 L1294.4 579.2 L1297.4 582.6 L1300.4 586.0 L1303.4 589.4 L1306.4 592.8 L1309.4 596.2 L1312.4 599.7 L1315.4 603.2 L1318.4 606.7 L1321.4 610.2 L1324.4 613.7 L1327.4 617.3 L1330.4 620.8 L1333.4 624.4 L1336.4 628.0 L1339.4 631.6 L1342.4 635.2 L1345.4 638.8 L1348.4 642.4 L1351.4 646.0 L1354.4 649.6 L1357.4 653.2 L1360.4 656.8 L1363.4 660.4 L1366.4 664.0 L1369.4 667.6 L1372.4 671.2 L1375.4 674.8 L1378.4 678.4 L1381.4 682.0 L1384.4 685.5 L1387.4 689.1 L1390.4 692.6 L1393.4 696.2 L1396.4 699.7 L1399.4 703.2 L1402.4 706.8 L1405.4 710.3 L1408.4 713.7 L1411.4 717.2 L1414.4 720.7 L1417.4 724.2 L1420.4 727.6 L1423.4 731.0 L1426.4 734.5 L1429.4 737.9 L1432.4 741.3 L1435.4 744.7 L1438.4 748.1 L1441.4 751.4 L1444.4 754.8 L1447.4 758.1 L1450.4 761.5 L1453.4 764.8 L1456.4 768.1 L1459.4 771.4 L1462.4 774.7 L1465.4 778.0 L1468.4 781.2 L1471.4 784.5 L1474.4 787.7 L1477.4 790.9 L1480.4 794.1 L1483.4 797.3 L1486.4 800.5 L1489.4 803.6 L1492.4 806.8 L1495.4 809.9 L1498.4 813.0 L1501.4 816.1 L1504.4 819.1 L1507.4 822.2 L1510.4 825.2 L1513.4 828.2 L1516.4 831.1 L1519.4 834.1 L1522.4 837.0 L1525.4 839.9 L1528.4 842.8 L1531.4 845.7 L1534.4 848.5 L1537.4 851.3 L1540.4 854.1 L1543.4 856.9 L1546.4 859.6 L1549.4 862.3 L1552.4 865.0 L1555.4 867.7 L1558.4 870.3 L1561.4 872.9 L1564.4 875.5 L1567.4 878.1 L1570.4 880.7 L1573.4 883.2 L1576.4 885.8 L1579.4 888.3 L1582.4 890.8 L1585.4 893.3 L1588.4 895.8 L1591.4 898.2 L1594.4 900.7 L1597.4 903.1 L1600.4 905.6 L1603.4 908.0 L1606.4 910.4 L1609.4 912.8 L1612.4 915.2 L1615.4 917.6 L1618.4 920.0 L1621.4 922.4 L1624.4 924.8 L1627.4 927.2 L1630.4 929.6 L1633.4 932.0 L1636.4 934.3 L1639.4 936.7 L1642.4 939.1 L1645.4 941.4 L1648.4 943.8 L1651.4 946.1 L1654.4 948.4 L1657.4 950.7 L1660.4 953.0 L1663.4 955.3 L1666.4 957.6 L1669.4 959.9 L1672.4 962.1 L1675.4 964.3 L1678.4 966.5 L1681.4 968.7 L1684.4 970.9 L1687.4 973.1 L1690.4 975.2 L1693.4 977.3 L1696.4 979.4 L1699.4 981.5 L1702.4 983.5 L1705.4 985.6 L1708.4 987.6 L1711.4 989.6 L1714.4 991.5 L1717.4 993.4 L1720.4 995.3 L1723.4 997.2 L1726.4 999.0 L1729.4 1000.9 L1732.4 1002.7 L1735.4 1004.4 L1738.4 1006.2 L1741.4 1007.9 L1744.4 1009.6 L1747.4 1011.3 L1750.4 1013.0 L1753.4 1014.7 L1756.4 1016.4 L1759.4 1018.0 L1762.4 1019.7 L1765.4 1021.3 L1768.4 1022.9 L1771.4 1024.6 L1774.4 1026.2 L1776.0 1027.1"/>
</g>
<path d="M361.6 661.8 L367.1 661.8 L367.1 669.8 L375.1 669.8 L375.1 675.2 L367.1 675.2 L367.1 683.2 L361.6 683.2 L361.6 675.2 L353.6 675.2 L353.6 669.8 L361.6 669.8 Z M407.4 581.2 L412.9 581.2 L412.9 589.2 L420.9 589.2 L420.9 594.8 L412.9 594.8 L412.9 602.8 L407.4 602.8 L407.4 594.8 L399.4 594.8 L399.4 589.2 L407.4 589.2 Z M452.4 494.4 L457.9 494.4 L457.9 502.4 L465.9 502.4 L465.9 507.9 L457.9 507.9 L457.9 516.0 L452.4 516.0 L452.4 507.9 L444.4 507.9 L444.4 502.4 L452.4 502.4 Z M498.4 411.8 L503.9 411.8 L503.9 419.8 L511.9 419.8 L511.9 425.2 L503.9 425.2 L503.9 433.2 L498.4 433.2 L498.4 425.2 L490.4 425.2 L490.4 419.8 L498.4 419.8 Z M543.6 335.2 L549.1 335.2 L549.1 343.2 L557.1 343.2 L557.1 348.8 L549.1 348.8 L549.1 356.8 L543.6 356.8 L543.6 348.8 L535.6 348.8 L535.6 343.2 L543.6 343.2 Z M589.2 270.6 L594.8 270.6 L594.8 278.6 L602.8 278.6 L602.8 284.1 L594.8 284.1 L594.8 292.1 L589.2 292.1 L589.2 284.1 L581.2 284.1 L581.2 278.6 L589.2 278.6 Z M634.6 221.6 L640.1 221.6 L640.1 229.6 L648.1 229.6 L648.1 235.1 L640.1 235.1 L640.1 243.1 L634.6 243.1 L634.6 235.1 L626.6 235.1 L626.6 229.6 L634.6 229.6 Z M680.0 186.1 L685.5 186.1 L685.5 194.1 L693.5 194.1 L693.5 199.6 L685.5 199.6 L685.5 207.6 L680.0 207.6 L680.0 199.6 L672.0 199.6 L672.0 194.1 L680.0 194.1 Z M725.8 161.7 L731.2 161.7 L731.2 169.7 L739.2 169.7 L739.2 175.2 L731.2 175.2 L731.2 183.2 L725.8 183.2 L725.8 175.2 L717.8 175.2 L717.8 169.7 L725.8 169.7 Z M771.5 151.7 L777.0 151.7 L777.0 159.7 L785.0 159.7 L785.0 165.2 L777.0 165.2 L777.0 173.2 L771.5 173.2 L771.5 165.2 L763.5 165.2 L763.5 159.7 L771.5 159.7 Z M817.0 150.4 L822.5 150.4 L822.5 158.4 L830.5 158.4 L830.5 163.9 L822.5 163.9 L822.5 171.9 L817.0 171.9 L817.0 163.9 L809.0 163.9 L809.0 158.4 L817.0 158.4 Z M862.5 161.7 L868.0 161.7 L868.0 169.7 L876.0 169.7 L876.0 175.2 L868.0 175.2 L868.0 183.2 L862.5 183.2 L862.5 175.2 L854.5 175.2 L854.5 169.7 L862.5 169.7 Z M907.6 186.6 L913.1 186.6 L913.1 194.6 L921.1 194.6 L921.1 200.1 L913.1 200.1 L913.1 208.1 L907.6 208.1 L907.6 200.1 L899.6 200.1 L899.6 194.6 L907.6 194.6 Z M953.2 223.2 L958.8 223.2 L958.8 231.2 L966.8 231.2 L966.8 236.8 L958.8 236.8 L958.8 244.8 L953.2 244.8 L953.2 236.8 L945.2 236.8 L945.2 231.2 L953.2 231.2 Z M998.4 273.9 L1003.9 273.9 L1003.9 281.9 L1011.9 281.9 L1011.9 287.4 L1003.9 287.4 L1003.9 295.4 L998.4 295.4 L998.4 287.4 L990.4 287.4 L990.4 281.9 L998.4 281.9 Z M1044.7 340.2 L1050.2 340.2 L1050.2 348.2 L1058.2 348.2 L1058.2 353.8 L1050.2 353.8 L1050.2 361.8 L1044.7 361.8 L1044.7 353.8 L1036.7 353.8 L1036.7 348.2 L1044.7 348.2 Z M1090.0 415.6 L1095.5 415.6 L1095.5 423.6 L1103.5 423.6 L1103.5 429.1 L1095.5 429.1 L1095.5 437.1 L1090.0 437.1 L1090.0 429.1 L1082.0 429.1 L1082.0 423.6 L1090.0 423.6 Z M1135.5 494.6 L1141.0 494.6 L1141.0 502.6 L1149.0 502.6 L1149.0 508.1 L1141.0 508.1 L1141.0 516.1 L1135.5 516.1 L1135.5 508.1 L1127.5 508.1 L1127.5 502.6 L1135.5 502.6 Z M1180.7 582.1 L1186.2 582.1 L1186.2 590.1 L1194.2 590.1 L1194.2 595.6 L1186.2 595.6 L1186.2 603.6 L1180.7 603.6 L1180.7 595.6 L1172.7 595.6 L1172.7 590.1 L1180.7 590.1 Z M1226.3 666.0 L1231.8 666.0 L1231.8 674.0 L1239.8 674.0 L1239.8 679.5 L1231.8 679.5 L1231.8 687.5 L1226.3 687.5 L1226.3 679.5 L1218.3 679.5 L1218.3 674.0 L1226.3 674.0 Z M1271.5 743.5 L1277.0 743.5 L1277.0 751.5 L1285.0 751.5 L1285.0 757.0 L1277.0 757.0 L1277.0 765.0 L1271.5 765.0 L1271.5 757.0 L1263.5 757.0 L1263.5 751.5 L1271.5 751.5 Z M1317.8 815.8 L1323.2 815.8 L1323.2 823.8 L1331.2 823.8 L1331.2 829.2 L1323.2 829.2 L1323.2 837.2 L1317.8 837.2 L1317.8 829.2 L1309.8 829.2 L1309.8 823.8 L1317.8 823.8 Z M1362.7 880.9 L1368.2 880.9 L1368.2 888.9 L1376.2 888.9 L1376.2 894.4 L1368.2 894.4 L1368.2 902.4 L1362.7 902.4 L1362.7 894.4 L1354.7 894.4 L1354.7 888.9 L1362.7 888.9 Z M1408.0 932.6 L1413.5 932.6 L1413.5 940.6 L1421.5 940.6 L1421.5 946.1 L1413.5 946.1 L1413.5 954.1 L1408.0 954.1 L1408.0 946.1 L1400.0 946.1 L1400.0 940.6 L1408.0 940.6 Z M1454.2 978.9 L1459.8 978.9 L1459.8 986.9 L1467.8 986.9 L1467.8 992.4 L1459.8 992.4 L1459.8 1000.4 L1454.2 1000.4 L1454.2 992.4 L1446.2 992.4 L1446.2 986.9 L1454.2 986.9 Z M1499.3 1015.8 L1504.8 1015.8 L1504.8 1023.8 L1512.8 1023.8 L1512.8 1029.3 L1504.8 1029.3 L1504.8 1037.3 L1499.3 1037.3 L1499.3 1029.3 L1491.3 1029.3 L1491.3 1023.8 L1499.3 1023.8 Z M1545.0 1046.0 L1550.5 1046.0 L1550.5 1054.0 L1558.5 1054.0 L1558.5 1059.5 L1550.5 1059.5 L1550.5 1067.5 L1545.0 1067.5 L1545.0 1059.5 L1537.0 1059.5 L1537.0 1054.0 L1545.0 1054.0 Z M1590.5 1069.2 L1596.0 1069.2 L1596.0 1077.2 L1604.0 1077.2 L1604.0 1082.8 L1596.0 1082.8 L1596.0 1090.8 L1590.5 1090.8 L1590.5 1082.8 L1582.5 1082.8 L1582.5 1077.2 L1590.5 1077.2 Z M1636.2 1087.0 L1641.8 1087.0 L1641.8 1095.0 L1649.8 1095.0 L1649.8 1100.5 L1641.8 1100.5 L1641.8 1108.5 L1636.2 1108.5 L1636.2 1100.5 L1628.2 1100.5 L1628.2 1095.0 L1636.2 1095.0 Z M1681.8 1101.8 L1687.2 1101.8 L1687.2 1109.8 L1695.2 1109.8 L1695.2 1115.2 L1687.2 1115.2 L1687.2 1123.2 L1681.8 1123.2 L1681.8 1115.2 L1673.8 1115.2 L1673.8 1109.8 L1681.8 1109.8 Z M1726.8 1112.3 L1732.3 1112.3 L1732.3 1120.3 L1740.3 1120.3 L1740.3 1125.8 L1732.3 1125.8 L1732.3 1133.8 L1726.8 1133.8 L1726.8 1125.8 L1718.8 1125.8 L1718.8 1120.3 L1726.8 1120.3 Z M1772.8 1120.8 L1778.3 1120.8 L1778.3 1128.8 L1786.3 1128.8 L1786.3 1134.3 L1778.3 1134.3 L1778.3 1142.3 L1772.8 1142.3 L1772.8 1134.3 L1764.8 1134.3 L1764.8 1128.8 L1772.8 1128.8 Z" fill="#007a00" stroke="#00d000" stroke-width="1.3" stroke-linejoin="miter"/>
<line x1="575.5" y1="160.4" x2="679.2" y2="160.4" stroke="#2d2d2d" stroke-width="6.8" stroke-linecap="round"/><polygon points="699.2,161.6 679.9,172.7 673.8,172.7 673.8,167.5 679.0,163.8 679.0,157.0 673.8,153.3 673.8,148.1 679.9,148.1 699.2,159.2" fill="#2d2d2d" stroke="#2d2d2d" stroke-width="1" stroke-linejoin="round"/>
<line x1="1469.8" y1="644.9" x2="1200.9" y2="345.7" stroke="#ff0000" stroke-width="8.0" stroke-linecap="round"/><polygon points="1189.4,331.3 1208.9,337.6 1212.6,341.8 1209.1,345.0 1203.3,343.7 1198.7,347.9 1199.4,353.7 1195.8,356.9 1192.1,352.8 1187.8,332.7" fill="#ff0000" stroke="#ff0000" stroke-width="1" stroke-linejoin="round"/>
</g>
<g font-family='"Liberation Serif", serif' font-weight="bold" fill="#000">
<text x="298.5" y="92.6" font-size="66" text-anchor="end">3000</text>
<text x="298.5" y="455.0" font-size="66" text-anchor="end">2000</text>
<text x="298.5" y="816.0" font-size="66" text-anchor="end">1000</text>
<text x="298.5" y="1178.5" font-size="66" text-anchor="end">0</text>
<text x="352.0" y="1269.0" font-size="66" text-anchor="middle">350</text>
<text x="638.1" y="1269.0" font-size="66" text-anchor="middle">400</text>
<text x="922.7" y="1269.0" font-size="66" text-anchor="middle">450</text>
<text x="1207.3" y="1269.0" font-size="66" text-anchor="middle">500</text>
<text x="1491.9" y="1269.0" font-size="66" text-anchor="middle">550</text>
<text x="1776.5" y="1269.0" font-size="66" text-anchor="middle">600</text>
<text x="1042.2" y="1352.8" font-size="81" text-anchor="middle">Wavelength (nm)</text>
<text transform="translate(116 995) rotate(-90) scale(0.9735 1)" x="0" y="0" font-size="77">Absorptivity [M<tspan dy="-26">-1</tspan><tspan dy="26">cm</tspan><tspan dy="-26">-1</tspan><tspan dy="26">]</tspan></text>
<text x="377.6" y="132.1" font-size="65">pH 3.5 - <tspan fill="#009a25">12</tspan></text>
<text x="1391.3" y="433" font-size="65">pH <tspan fill="#ff0000">0.29 - 1.68</tspan></text>
</g>
</svg>
</body></html>
